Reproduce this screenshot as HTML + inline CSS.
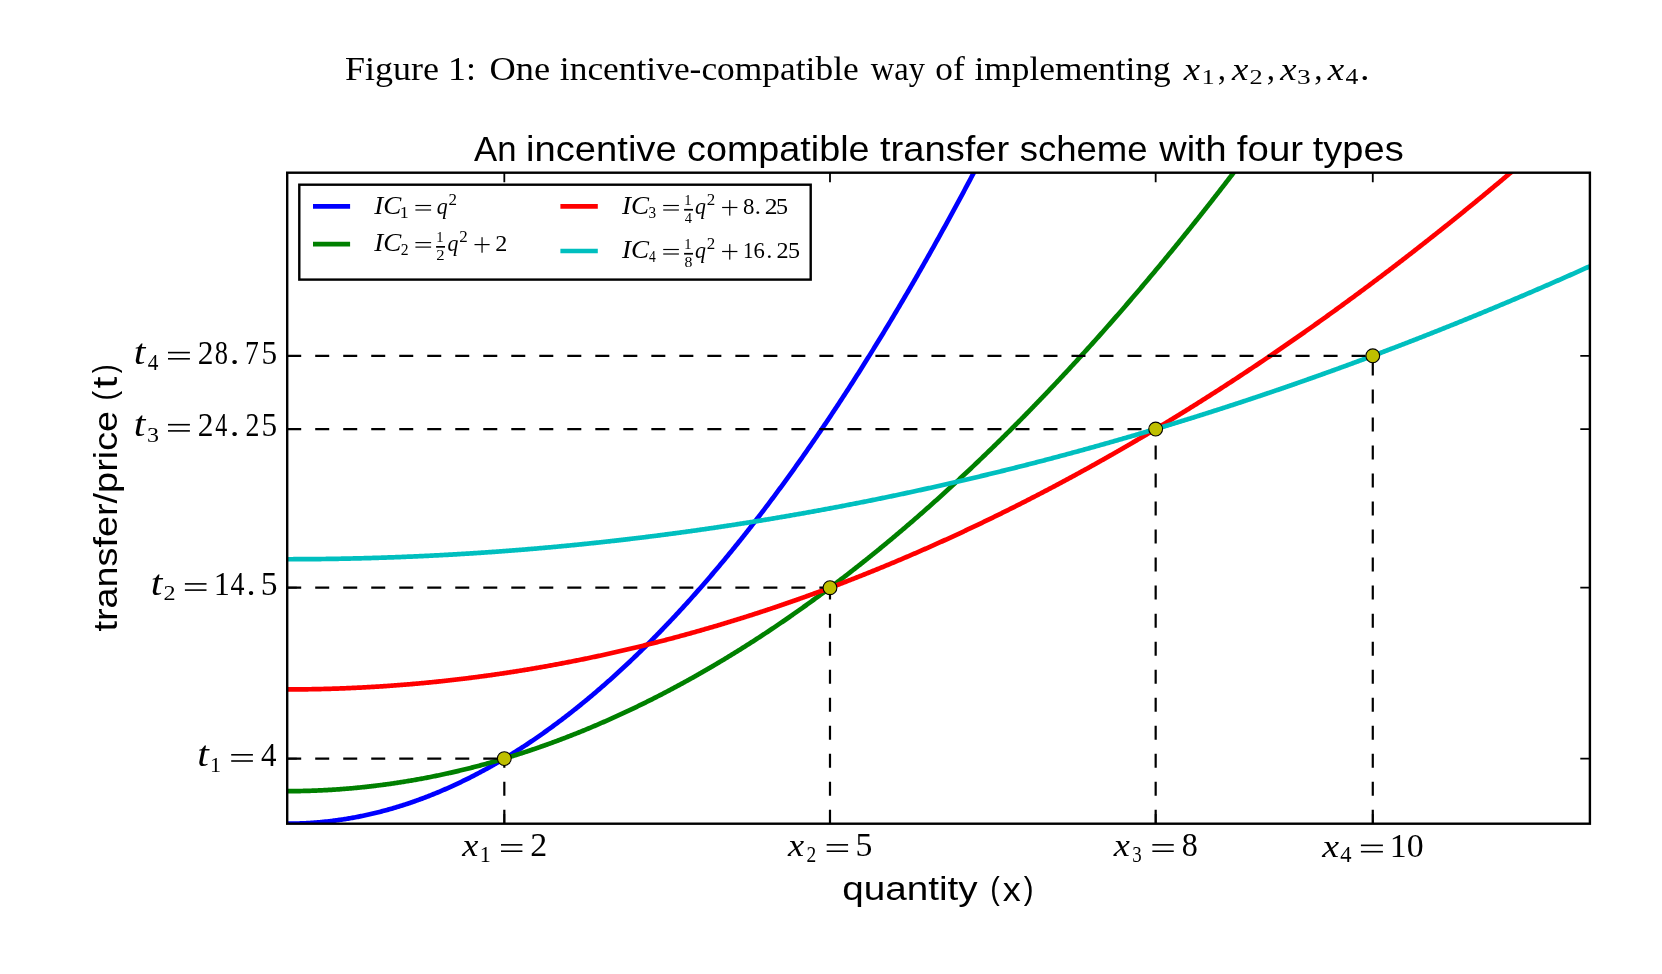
<!DOCTYPE html>
<html><head><meta charset="utf-8"><title>Figure 1</title>
<style>
html,body{margin:0;padding:0;background:#fff;width:1662px;height:974px;overflow:hidden}
svg{display:block;will-change:transform}
text{font-kerning:none}

</style></head><body>
<svg width="1662" height="974" viewBox="0 0 1662 974">
<defs><clipPath id="ax"><rect x="287.2" y="172.7" width="1302.70" height="651.00"/></clipPath></defs>
<rect width="1662" height="974" fill="#fff"/>
<g id="caption">
<text transform="matrix(1.0906,0,0,1.0000,344.96,79.50)" font-family="'Liberation Serif', serif" font-style="normal" font-size="33">Figure 1:</text>
<text transform="matrix(1.1014,0,0,1.0000,489.51,79.50)" font-family="'Liberation Serif', serif" font-style="normal" font-size="33">One</text>
<text transform="matrix(1.0730,0,0,1.0000,559.86,79.50)" font-family="'Liberation Serif', serif" font-style="normal" font-size="33">incentive-compatible</text>
<text transform="matrix(0.9851,0,0,1.0000,870.77,79.50)" font-family="'Liberation Serif', serif" font-style="normal" font-size="33">way</text>
<text transform="matrix(1.0750,0,0,1.0000,935.15,79.50)" font-family="'Liberation Serif', serif" font-style="normal" font-size="33">of</text>
<text transform="matrix(1.0710,0,0,1.0000,974.46,79.50)" font-family="'Liberation Serif', serif" font-style="normal" font-size="33">implementing</text>
<text transform="matrix(1.1143,0,0,0.9639,1183.65,79.80)" font-family="'Liberation Serif', serif" font-style="italic" font-size="33">x</text>
<text transform="matrix(1.2008,0,0,0.9984,1201.38,84.40)" font-family="'Liberation Serif', serif" font-style="normal" font-size="22">1</text>
<text transform="matrix(1.1143,0,0,0.9639,1231.95,79.80)" font-family="'Liberation Serif', serif" font-style="italic" font-size="33">x</text>
<text transform="matrix(1.2019,0,0,0.9954,1249.54,84.40)" font-family="'Liberation Serif', serif" font-style="normal" font-size="22">2</text>
<text transform="matrix(1.1143,0,0,0.9639,1280.25,79.80)" font-family="'Liberation Serif', serif" font-style="italic" font-size="33">x</text>
<text transform="matrix(1.2434,0,0,0.9954,1296.99,84.40)" font-family="'Liberation Serif', serif" font-style="normal" font-size="22">3</text>
<text transform="matrix(1.1210,0,0,0.9639,1327.85,79.80)" font-family="'Liberation Serif', serif" font-style="italic" font-size="33">x</text>
<text transform="matrix(1.1636,0,0,1.0013,1345.50,84.40)" font-family="'Liberation Serif', serif" font-style="normal" font-size="22">4</text>
<text transform="matrix(1.0000,0,0,1.0000,1217.74,79.50)" font-family="'Liberation Serif', serif" font-style="normal" font-size="33">,</text>
<text transform="matrix(1.0000,0,0,1.0000,1266.64,79.50)" font-family="'Liberation Serif', serif" font-style="normal" font-size="33">,</text>
<text transform="matrix(1.0000,0,0,1.0000,1314.24,79.50)" font-family="'Liberation Serif', serif" font-style="normal" font-size="33">,</text>
<text transform="matrix(1.1540,0,0,1.0000,1359.99,79.50)" font-family="'Liberation Serif', serif" font-style="normal" font-size="33">.</text>
<text transform="matrix(1.0052,0,0,1.0000,474.03,161.00)" font-family="'Liberation Sans', sans-serif" font-style="normal" font-size="34.5">An</text>
<text transform="matrix(1.1064,0,0,1.0000,526.05,161.00)" font-family="'Liberation Sans', sans-serif" font-style="normal" font-size="34.5">incentive</text>
<text transform="matrix(1.0950,0,0,1.0000,687.00,161.00)" font-family="'Liberation Sans', sans-serif" font-style="normal" font-size="34.5">compatible</text>
<text transform="matrix(1.1047,0,0,1.0000,880.02,161.00)" font-family="'Liberation Sans', sans-serif" font-style="normal" font-size="34.5">transfer</text>
<text transform="matrix(1.0583,0,0,1.0000,1019.78,161.00)" font-family="'Liberation Sans', sans-serif" font-style="normal" font-size="34.5">scheme</text>
<text transform="matrix(1.0987,0,0,1.0000,1159.26,161.00)" font-family="'Liberation Sans', sans-serif" font-style="normal" font-size="34.5">with</text>
<text transform="matrix(1.1133,0,0,1.0000,1236.86,161.00)" font-family="'Liberation Sans', sans-serif" font-style="normal" font-size="34.5">four</text>
<text transform="matrix(1.1030,0,0,1.0000,1312.72,161.00)" font-family="'Liberation Sans', sans-serif" font-style="normal" font-size="34.5">types</text>
<text transform="matrix(1.1540,0,0,1.0000,842.28,900.40)" font-family="'Liberation Sans', sans-serif" font-style="normal" font-size="33.5">quantity</text>
<text transform="matrix(0.8557,0,0,0.9516,990.22,899.10)" font-family="'Liberation Sans', sans-serif" font-style="normal" font-size="33.5">(</text>
<text transform="matrix(1.0741,0,0,0.9888,1002.70,900.60)" font-family="'Liberation Sans', sans-serif" font-style="normal" font-size="33.5">x</text>
<text transform="matrix(0.8782,0,0,0.9516,1023.83,899.10)" font-family="'Liberation Sans', sans-serif" font-style="normal" font-size="33.5">)</text>
</g>
<g transform="translate(117,0) rotate(-90)"><text transform="matrix(1.1287,0,0,1.0000,-631.57,0.00)" font-family="'Liberation Sans', sans-serif" font-style="normal" font-size="33.5">transfer/price</text><text transform="matrix(0.8669,0,0,0.9292,-400.40,-2.24)" font-family="'Liberation Sans', sans-serif" font-style="normal" font-size="33.5">(</text><text transform="matrix(1.2741,0,0,1.0481,-388.55,-0.30)" font-family="'Liberation Sans', sans-serif" font-style="normal" font-size="33.5">t</text><text transform="matrix(0.7881,0,0,0.9292,-373.15,-2.24)" font-family="'Liberation Sans', sans-serif" font-style="normal" font-size="33.5">)</text></g>
<g clip-path="url(#ax)">
<g fill="none" stroke-width="4.7" stroke-linejoin="round" stroke-linecap="butt">
<path d="M287.20,823.70 L288.29,823.70 L289.37,823.69 L290.46,823.69 L291.54,823.67 L292.63,823.66 L293.71,823.64 L294.80,823.62 L295.88,823.60 L296.97,823.57 L298.06,823.54 L299.14,823.50 L300.23,823.47 L301.31,823.42 L302.40,823.38 L303.48,823.33 L304.57,823.28 L305.65,823.23 L306.74,823.17 L307.83,823.11 L308.91,823.05 L310.00,822.98 L311.08,822.91 L312.17,822.84 L313.25,822.76 L314.34,822.68 L315.43,822.60 L316.51,822.51 L317.60,822.42 L318.68,822.33 L319.77,822.24 L320.85,822.14 L321.94,822.03 L323.02,821.93 L324.11,821.82 L325.20,821.71 L326.28,821.59 L327.37,821.47 L328.45,821.35 L329.54,821.22 L330.62,821.10 L331.71,820.96 L332.79,820.83 L333.88,820.69 L334.97,820.55 L336.05,820.40 L337.14,820.26 L338.22,820.10 L339.31,819.95 L340.39,819.79 L341.48,819.63 L342.56,819.47 L343.65,819.30 L344.74,819.13 L345.82,818.95 L346.91,818.78 L347.99,818.60 L349.08,818.41 L350.16,818.23 L351.25,818.03 L352.33,817.84 L353.42,817.64 L354.51,817.44 L355.59,817.24 L356.68,817.03 L357.76,816.82 L358.85,816.61 L359.93,816.39 L361.02,816.17 L362.11,815.95 L363.19,815.73 L364.28,815.50 L365.36,815.26 L366.45,815.03 L367.53,814.79 L368.62,814.55 L369.70,814.30 L370.79,814.05 L371.88,813.80 L372.96,813.54 L374.05,813.28 L375.13,813.02 L376.22,812.76 L377.30,812.49 L378.39,812.22 L379.47,811.94 L380.56,811.66 L381.65,811.38 L382.73,811.10 L383.82,810.81 L384.90,810.52 L385.99,810.22 L387.07,809.92 L388.16,809.62 L389.24,809.32 L390.33,809.01 L391.42,808.70 L392.50,808.39 L393.59,808.07 L394.67,807.75 L395.76,807.43 L396.84,807.10 L397.93,806.77 L399.02,806.43 L400.10,806.10 L401.19,805.76 L402.27,805.41 L403.36,805.07 L404.44,804.72 L405.53,804.36 L406.61,804.01 L407.70,803.65 L408.79,803.28 L409.87,802.92 L410.96,802.55 L412.04,802.18 L413.13,801.80 L414.21,801.42 L415.30,801.04 L416.38,800.65 L417.47,800.26 L418.56,799.87 L419.64,799.48 L420.73,799.08 L421.81,798.68 L422.90,798.27 L423.98,797.86 L425.07,797.45 L426.15,797.04 L427.24,796.62 L428.33,796.20 L429.41,795.77 L430.50,795.34 L431.58,794.91 L432.67,794.48 L433.75,794.04 L434.84,793.60 L435.92,793.15 L437.01,792.71 L438.10,792.26 L439.18,791.80 L440.27,791.34 L441.35,790.88 L442.44,790.42 L443.52,789.95 L444.61,789.48 L445.70,789.01 L446.78,788.53 L447.87,788.05 L448.95,787.57 L450.04,787.08 L451.12,786.59 L452.21,786.10 L453.29,785.60 L454.38,785.10 L455.47,784.60 L456.55,784.09 L457.64,783.58 L458.72,783.07 L459.81,782.56 L460.89,782.04 L461.98,781.51 L463.06,780.99 L464.15,780.46 L465.24,779.93 L466.32,779.39 L467.41,778.85 L468.49,778.31 L469.58,777.77 L470.66,777.22 L471.75,776.67 L472.83,776.11 L473.92,775.55 L475.01,774.99 L476.09,774.43 L477.18,773.86 L478.26,773.29 L479.35,772.71 L480.43,772.13 L481.52,771.55 L482.61,770.97 L483.69,770.38 L484.78,769.79 L485.86,769.20 L486.95,768.60 L488.03,768.00 L489.12,767.40 L490.20,766.79 L491.29,766.18 L492.38,765.56 L493.46,764.95 L494.55,764.33 L495.63,763.70 L496.72,763.08 L497.80,762.45 L498.89,761.81 L499.97,761.18 L501.06,760.54 L502.15,759.90 L503.23,759.25 L504.32,758.60 L505.40,757.95 L506.49,757.29 L507.57,756.63 L508.66,755.97 L509.74,755.30 L510.83,754.64 L511.92,753.96 L513.00,753.29 L514.09,752.61 L515.17,751.93 L516.26,751.24 L517.34,750.55 L518.43,749.86 L519.51,749.17 L520.60,748.47 L521.69,747.77 L522.77,747.06 L523.86,746.35 L524.94,745.64 L526.03,744.93 L527.11,744.21 L528.20,743.49 L529.29,742.77 L530.37,742.04 L531.46,741.31 L532.54,740.57 L533.63,739.84 L534.71,739.10 L535.80,738.35 L536.88,737.61 L537.97,736.85 L539.06,736.10 L540.14,735.34 L541.23,734.58 L542.31,733.82 L543.40,733.05 L544.48,732.28 L545.57,731.51 L546.65,730.74 L547.74,729.96 L548.83,729.17 L549.91,728.39 L551.00,727.60 L552.08,726.81 L553.17,726.01 L554.25,725.21 L555.34,724.41 L556.42,723.60 L557.51,722.79 L558.60,721.98 L559.68,721.17 L560.77,720.35 L561.85,719.53 L562.94,718.70 L564.02,717.87 L565.11,717.04 L566.19,716.21 L567.28,715.37 L568.37,714.53 L569.45,713.68 L570.54,712.83 L571.62,711.98 L572.71,711.13 L573.79,710.27 L574.88,709.41 L575.97,708.54 L577.05,707.68 L578.14,706.81 L579.22,705.93 L580.31,705.06 L581.39,704.17 L582.48,703.29 L583.56,702.40 L584.65,701.51 L585.74,700.62 L586.82,699.72 L587.91,698.82 L588.99,697.92 L590.08,697.01 L591.16,696.10 L592.25,695.19 L593.33,694.27 L594.42,693.36 L595.51,692.43 L596.59,691.51 L597.68,690.58 L598.76,689.64 L599.85,688.71 L600.93,687.77 L602.02,686.83 L603.10,685.88 L604.19,684.93 L605.28,683.98 L606.36,683.03 L607.45,682.07 L608.53,681.10 L609.62,680.14 L610.70,679.17 L611.79,678.20 L612.88,677.23 L613.96,676.25 L615.05,675.27 L616.13,674.28 L617.22,673.29 L618.30,672.30 L619.39,671.31 L620.47,670.31 L621.56,669.31 L622.65,668.30 L623.73,667.30 L624.82,666.29 L625.90,665.27 L626.99,664.26 L628.07,663.24 L629.16,662.21 L630.24,661.18 L631.33,660.15 L632.42,659.12 L633.50,658.08 L634.59,657.04 L635.67,656.00 L636.76,654.95 L637.84,653.90 L638.93,652.85 L640.01,651.80 L641.10,650.74 L642.19,649.67 L643.27,648.61 L644.36,647.54 L645.44,646.47 L646.53,645.39 L647.61,644.31 L648.70,643.23 L649.78,642.14 L650.87,641.05 L651.96,639.96 L653.04,638.87 L654.13,637.77 L655.21,636.67 L656.30,635.56 L657.38,634.45 L658.47,633.34 L659.56,632.23 L660.64,631.11 L661.73,629.99 L662.81,628.86 L663.90,627.73 L664.98,626.60 L666.07,625.47 L667.15,624.33 L668.24,623.19 L669.33,622.05 L670.41,620.90 L671.50,619.75 L672.58,618.59 L673.67,617.44 L674.75,616.28 L675.84,615.11 L676.92,613.95 L678.01,612.78 L679.10,611.60 L680.18,610.43 L681.27,609.25 L682.35,608.06 L683.44,606.88 L684.52,605.69 L685.61,604.49 L686.69,603.30 L687.78,602.10 L688.87,600.90 L689.95,599.69 L691.04,598.48 L692.12,597.27 L693.21,596.05 L694.29,594.83 L695.38,593.61 L696.46,592.39 L697.55,591.16 L698.64,589.92 L699.72,588.69 L700.81,587.45 L701.89,586.21 L702.98,584.96 L704.06,583.72 L705.15,582.46 L706.24,581.21 L707.32,579.95 L708.41,578.69 L709.49,577.43 L710.58,576.16 L711.66,574.89 L712.75,573.61 L713.83,572.33 L714.92,571.05 L716.01,569.77 L717.09,568.48 L718.18,567.19 L719.26,565.90 L720.35,564.60 L721.43,563.30 L722.52,562.00 L723.60,560.69 L724.69,559.38 L725.78,558.07 L726.86,556.75 L727.95,555.43 L729.03,554.11 L730.12,552.78 L731.20,551.45 L732.29,550.12 L733.37,548.78 L734.46,547.44 L735.55,546.10 L736.63,544.75 L737.72,543.40 L738.80,542.05 L739.89,540.70 L740.97,539.34 L742.06,537.97 L743.14,536.61 L744.23,535.24 L745.32,533.87 L746.40,532.49 L747.49,531.11 L748.57,529.73 L749.66,528.35 L750.74,526.96 L751.83,525.57 L752.92,524.17 L754.00,522.78 L755.09,521.37 L756.17,519.97 L757.26,518.56 L758.34,517.15 L759.43,515.74 L760.51,514.32 L761.60,512.90 L762.69,511.47 L763.77,510.05 L764.86,508.62 L765.94,507.18 L767.03,505.75 L768.11,504.30 L769.20,502.86 L770.28,501.41 L771.37,499.96 L772.46,498.51 L773.54,497.05 L774.63,495.59 L775.71,494.13 L776.80,492.66 L777.88,491.20 L778.97,489.72 L780.05,488.25 L781.14,486.77 L782.23,485.28 L783.31,483.80 L784.40,482.31 L785.48,480.82 L786.57,479.32 L787.65,477.82 L788.74,476.32 L789.83,474.81 L790.91,473.31 L792.00,471.79 L793.08,470.28 L794.17,468.76 L795.25,467.24 L796.34,465.71 L797.42,464.19 L798.51,462.65 L799.60,461.12 L800.68,459.58 L801.77,458.04 L802.85,456.50 L803.94,454.95 L805.02,453.40 L806.11,451.84 L807.19,450.28 L808.28,448.72 L809.37,447.16 L810.45,445.59 L811.54,444.02 L812.62,442.45 L813.71,440.87 L814.79,439.29 L815.88,437.71 L816.96,436.12 L818.05,434.53 L819.14,432.94 L820.22,431.34 L821.31,429.74 L822.39,428.14 L823.48,426.53 L824.56,424.92 L825.65,423.31 L826.73,421.69 L827.82,420.07 L828.91,418.45 L829.99,416.83 L831.08,415.20 L832.16,413.56 L833.25,411.93 L834.33,410.29 L835.42,408.65 L836.51,407.00 L837.59,405.35 L838.68,403.70 L839.76,402.05 L840.85,400.39 L841.93,398.73 L843.02,397.06 L844.10,395.39 L845.19,393.72 L846.28,392.05 L847.36,390.37 L848.45,388.69 L849.53,387.00 L850.62,385.31 L851.70,383.62 L852.79,381.93 L853.87,380.23 L854.96,378.53 L856.05,376.83 L857.13,375.12 L858.22,373.41 L859.30,371.70 L860.39,369.98 L861.47,368.26 L862.56,366.54 L863.64,364.81 L864.73,363.08 L865.82,361.35 L866.90,359.61 L867.99,357.87 L869.07,356.13 L870.16,354.38 L871.24,352.63 L872.33,350.88 L873.41,349.12 L874.50,347.36 L875.59,345.60 L876.67,343.83 L877.76,342.06 L878.84,340.29 L879.93,338.52 L881.01,336.74 L882.10,334.96 L883.19,333.17 L884.27,331.38 L885.36,329.59 L886.44,327.79 L887.53,326.00 L888.61,324.19 L889.70,322.39 L890.78,320.58 L891.87,318.77 L892.96,316.96 L894.04,315.14 L895.13,313.32 L896.21,311.49 L897.30,309.66 L898.38,307.83 L899.47,306.00 L900.55,304.16 L901.64,302.32 L902.73,300.48 L903.81,298.63 L904.90,296.78 L905.98,294.93 L907.07,293.07 L908.15,291.21 L909.24,289.34 L910.32,287.48 L911.41,285.61 L912.50,283.73 L913.58,281.86 L914.67,279.98 L915.75,278.10 L916.84,276.21 L917.92,274.32 L919.01,272.43 L920.10,270.53 L921.18,268.63 L922.27,266.73 L923.35,264.82 L924.44,262.91 L925.52,261.00 L926.61,259.09 L927.69,257.17 L928.78,255.25 L929.87,253.32 L930.95,251.39 L932.04,249.46 L933.12,247.52 L934.21,245.59 L935.29,243.64 L936.38,241.70 L937.46,239.75 L938.55,237.80 L939.64,235.85 L940.72,233.89 L941.81,231.93 L942.89,229.96 L943.98,227.99 L945.06,226.02 L946.15,224.05 L947.23,222.07 L948.32,220.09 L949.41,218.11 L950.49,216.12 L951.58,214.13 L952.66,212.14 L953.75,210.14 L954.83,208.14 L955.92,206.14 L957.00,204.13 L958.09,202.12 L959.18,200.11 L960.26,198.09 L961.35,196.07 L962.43,194.05 L963.52,192.02 L964.60,189.99 L965.69,187.96 L966.78,185.92 L967.86,183.88 L968.95,181.84 L970.03,179.79 L971.12,177.75 L972.20,175.69 L973.29,173.64 L974.37,171.58 L975.46,169.52 L976.55,167.45 L977.63,165.38 L978.72,163.31 L979.80,161.24 L980.89,159.16 L981.97,157.08 L983.06,154.99 L984.14,152.90 L985.23,150.81 L986.32,148.72 L987.40,146.62 L988.49,144.52 L989.57,142.41 L990.66,140.31 L991.74,138.20 L992.83,136.08 L993.91,133.96 L995.00,131.84 L996.09,129.72 L997.17,127.59 L998.26,125.46 L999.34,123.33 L1000.43,121.19 L1001.51,119.05 L1002.60,116.91 L1003.69,114.76 L1004.77,112.61 L1005.86,110.46 L1006.94,108.30" stroke="#0000ff"/>
<path d="M287.20,791.15 L288.29,791.15 L289.37,791.15 L290.46,791.14 L291.54,791.14 L292.63,791.13 L293.71,791.12 L294.80,791.11 L295.88,791.10 L296.97,791.08 L298.06,791.07 L299.14,791.05 L300.23,791.03 L301.31,791.01 L302.40,790.99 L303.48,790.97 L304.57,790.94 L305.65,790.91 L306.74,790.89 L307.83,790.86 L308.91,790.82 L310.00,790.79 L311.08,790.76 L312.17,790.72 L313.25,790.68 L314.34,790.64 L315.43,790.60 L316.51,790.56 L317.60,790.51 L318.68,790.47 L319.77,790.42 L320.85,790.37 L321.94,790.32 L323.02,790.26 L324.11,790.21 L325.20,790.15 L326.28,790.10 L327.37,790.04 L328.45,789.97 L329.54,789.91 L330.62,789.85 L331.71,789.78 L332.79,789.71 L333.88,789.65 L334.97,789.57 L336.05,789.50 L337.14,789.43 L338.22,789.35 L339.31,789.28 L340.39,789.20 L341.48,789.12 L342.56,789.03 L343.65,788.95 L344.74,788.86 L345.82,788.78 L346.91,788.69 L347.99,788.60 L349.08,788.51 L350.16,788.41 L351.25,788.32 L352.33,788.22 L353.42,788.12 L354.51,788.02 L355.59,787.92 L356.68,787.82 L357.76,787.71 L358.85,787.61 L359.93,787.50 L361.02,787.39 L362.11,787.28 L363.19,787.16 L364.28,787.05 L365.36,786.93 L366.45,786.81 L367.53,786.69 L368.62,786.57 L369.70,786.45 L370.79,786.33 L371.88,786.20 L372.96,786.07 L374.05,785.94 L375.13,785.81 L376.22,785.68 L377.30,785.54 L378.39,785.41 L379.47,785.27 L380.56,785.13 L381.65,784.99 L382.73,784.85 L383.82,784.70 L384.90,784.56 L385.99,784.41 L387.07,784.26 L388.16,784.11 L389.24,783.96 L390.33,783.81 L391.42,783.65 L392.50,783.49 L393.59,783.33 L394.67,783.17 L395.76,783.01 L396.84,782.85 L397.93,782.68 L399.02,782.52 L400.10,782.35 L401.19,782.18 L402.27,782.01 L403.36,781.83 L404.44,781.66 L405.53,781.48 L406.61,781.30 L407.70,781.12 L408.79,780.94 L409.87,780.76 L410.96,780.57 L412.04,780.39 L413.13,780.20 L414.21,780.01 L415.30,779.82 L416.38,779.63 L417.47,779.43 L418.56,779.24 L419.64,779.04 L420.73,778.84 L421.81,778.64 L422.90,778.44 L423.98,778.23 L425.07,778.03 L426.15,777.82 L427.24,777.61 L428.33,777.40 L429.41,777.19 L430.50,776.97 L431.58,776.76 L432.67,776.54 L433.75,776.32 L434.84,776.10 L435.92,775.88 L437.01,775.65 L438.10,775.43 L439.18,775.20 L440.27,774.97 L441.35,774.74 L442.44,774.51 L443.52,774.28 L444.61,774.04 L445.70,773.80 L446.78,773.57 L447.87,773.33 L448.95,773.08 L450.04,772.84 L451.12,772.60 L452.21,772.35 L453.29,772.10 L454.38,771.85 L455.47,771.60 L456.55,771.35 L457.64,771.09 L458.72,770.84 L459.81,770.58 L460.89,770.32 L461.98,770.06 L463.06,769.79 L464.15,769.53 L465.24,769.26 L466.32,769.00 L467.41,768.73 L468.49,768.46 L469.58,768.18 L470.66,767.91 L471.75,767.63 L472.83,767.36 L473.92,767.08 L475.01,766.80 L476.09,766.51 L477.18,766.23 L478.26,765.94 L479.35,765.66 L480.43,765.37 L481.52,765.08 L482.61,764.78 L483.69,764.49 L484.78,764.20 L485.86,763.90 L486.95,763.60 L488.03,763.30 L489.12,763.00 L490.20,762.69 L491.29,762.39 L492.38,762.08 L493.46,761.77 L494.55,761.46 L495.63,761.15 L496.72,760.84 L497.80,760.52 L498.89,760.21 L499.97,759.89 L501.06,759.57 L502.15,759.25 L503.23,758.92 L504.32,758.60 L505.40,758.27 L506.49,757.95 L507.57,757.62 L508.66,757.28 L509.74,756.95 L510.83,756.62 L511.92,756.28 L513.00,755.94 L514.09,755.60 L515.17,755.26 L516.26,754.92 L517.34,754.58 L518.43,754.23 L519.51,753.88 L520.60,753.53 L521.69,753.18 L522.77,752.83 L523.86,752.48 L524.94,752.12 L526.03,751.76 L527.11,751.41 L528.20,751.05 L529.29,750.68 L530.37,750.32 L531.46,749.95 L532.54,749.59 L533.63,749.22 L534.71,748.85 L535.80,748.48 L536.88,748.10 L537.97,747.73 L539.06,747.35 L540.14,746.97 L541.23,746.59 L542.31,746.21 L543.40,745.83 L544.48,745.44 L545.57,745.06 L546.65,744.67 L547.74,744.28 L548.83,743.89 L549.91,743.49 L551.00,743.10 L552.08,742.70 L553.17,742.30 L554.25,741.91 L555.34,741.50 L556.42,741.10 L557.51,740.70 L558.60,740.29 L559.68,739.88 L560.77,739.47 L561.85,739.06 L562.94,738.65 L564.02,738.24 L565.11,737.82 L566.19,737.40 L567.28,736.98 L568.37,736.56 L569.45,736.14 L570.54,735.72 L571.62,735.29 L572.71,734.86 L573.79,734.43 L574.88,734.00 L575.97,733.57 L577.05,733.14 L578.14,732.70 L579.22,732.27 L580.31,731.83 L581.39,731.39 L582.48,730.95 L583.56,730.50 L584.65,730.06 L585.74,729.61 L586.82,729.16 L587.91,728.71 L588.99,728.26 L590.08,727.81 L591.16,727.35 L592.25,726.90 L593.33,726.44 L594.42,725.98 L595.51,725.52 L596.59,725.05 L597.68,724.59 L598.76,724.12 L599.85,723.65 L600.93,723.18 L602.02,722.71 L603.10,722.24 L604.19,721.77 L605.28,721.29 L606.36,720.81 L607.45,720.33 L608.53,719.85 L609.62,719.37 L610.70,718.89 L611.79,718.40 L612.88,717.91 L613.96,717.42 L615.05,716.93 L616.13,716.44 L617.22,715.95 L618.30,715.45 L619.39,714.95 L620.47,714.45 L621.56,713.95 L622.65,713.45 L623.73,712.95 L624.82,712.44 L625.90,711.94 L626.99,711.43 L628.07,710.92 L629.16,710.41 L630.24,709.89 L631.33,709.38 L632.42,708.86 L633.50,708.34 L634.59,707.82 L635.67,707.30 L636.76,706.78 L637.84,706.25 L638.93,705.73 L640.01,705.20 L641.10,704.67 L642.19,704.14 L643.27,703.60 L644.36,703.07 L645.44,702.53 L646.53,701.99 L647.61,701.46 L648.70,700.91 L649.78,700.37 L650.87,699.83 L651.96,699.28 L653.04,698.73 L654.13,698.18 L655.21,697.63 L656.30,697.08 L657.38,696.53 L658.47,695.97 L659.56,695.41 L660.64,694.85 L661.73,694.29 L662.81,693.73 L663.90,693.17 L664.98,692.60 L666.07,692.03 L667.15,691.47 L668.24,690.90 L669.33,690.32 L670.41,689.75 L671.50,689.17 L672.58,688.60 L673.67,688.02 L674.75,687.44 L675.84,686.86 L676.92,686.27 L678.01,685.69 L679.10,685.10 L680.18,684.51 L681.27,683.92 L682.35,683.33 L683.44,682.74 L684.52,682.14 L685.61,681.55 L686.69,680.95 L687.78,680.35 L688.87,679.75 L689.95,679.14 L691.04,678.54 L692.12,677.93 L693.21,677.33 L694.29,676.72 L695.38,676.11 L696.46,675.49 L697.55,674.88 L698.64,674.26 L699.72,673.64 L700.81,673.03 L701.89,672.40 L702.98,671.78 L704.06,671.16 L705.15,670.53 L706.24,669.90 L707.32,669.28 L708.41,668.64 L709.49,668.01 L710.58,667.38 L711.66,666.74 L712.75,666.11 L713.83,665.47 L714.92,664.83 L716.01,664.18 L717.09,663.54 L718.18,662.90 L719.26,662.25 L720.35,661.60 L721.43,660.95 L722.52,660.30 L723.60,659.64 L724.69,658.99 L725.78,658.33 L726.86,657.67 L727.95,657.01 L729.03,656.35 L730.12,655.69 L731.20,655.03 L732.29,654.36 L733.37,653.69 L734.46,653.02 L735.55,652.35 L736.63,651.68 L737.72,651.00 L738.80,650.33 L739.89,649.65 L740.97,648.97 L742.06,648.29 L743.14,647.60 L744.23,646.92 L745.32,646.23 L746.40,645.55 L747.49,644.86 L748.57,644.17 L749.66,643.47 L750.74,642.78 L751.83,642.08 L752.92,641.39 L754.00,640.69 L755.09,639.99 L756.17,639.28 L757.26,638.58 L758.34,637.88 L759.43,637.17 L760.51,636.46 L761.60,635.75 L762.69,635.04 L763.77,634.32 L764.86,633.61 L765.94,632.89 L767.03,632.17 L768.11,631.45 L769.20,630.73 L770.28,630.01 L771.37,629.28 L772.46,628.56 L773.54,627.83 L774.63,627.10 L775.71,626.37 L776.80,625.63 L777.88,624.90 L778.97,624.16 L780.05,623.42 L781.14,622.68 L782.23,621.94 L783.31,621.20 L784.40,620.45 L785.48,619.71 L786.57,618.96 L787.65,618.21 L788.74,617.46 L789.83,616.71 L790.91,615.95 L792.00,615.20 L793.08,614.44 L794.17,613.68 L795.25,612.92 L796.34,612.16 L797.42,611.39 L798.51,610.63 L799.60,609.86 L800.68,609.09 L801.77,608.32 L802.85,607.55 L803.94,606.77 L805.02,606.00 L806.11,605.22 L807.19,604.44 L808.28,603.66 L809.37,602.88 L810.45,602.10 L811.54,601.31 L812.62,600.52 L813.71,599.74 L814.79,598.95 L815.88,598.15 L816.96,597.36 L818.05,596.57 L819.14,595.77 L820.22,594.97 L821.31,594.17 L822.39,593.37 L823.48,592.57 L824.56,591.76 L825.65,590.95 L826.73,590.15 L827.82,589.34 L828.91,588.53 L829.99,587.71 L831.08,586.90 L832.16,586.08 L833.25,585.26 L834.33,584.44 L835.42,583.62 L836.51,582.80 L837.59,581.98 L838.68,581.15 L839.76,580.32 L840.85,579.49 L841.93,578.66 L843.02,577.83 L844.10,577.00 L845.19,576.16 L846.28,575.32 L847.36,574.48 L848.45,573.64 L849.53,572.80 L850.62,571.96 L851.70,571.11 L852.79,570.26 L853.87,569.42 L854.96,568.57 L856.05,567.71 L857.13,566.86 L858.22,566.00 L859.30,565.15 L860.39,564.29 L861.47,563.43 L862.56,562.57 L863.64,561.70 L864.73,560.84 L865.82,559.97 L866.90,559.10 L867.99,558.23 L869.07,557.36 L870.16,556.49 L871.24,555.61 L872.33,554.74 L873.41,553.86 L874.50,552.98 L875.59,552.10 L876.67,551.22 L877.76,550.33 L878.84,549.45 L879.93,548.56 L881.01,547.67 L882.10,546.78 L883.19,545.88 L884.27,544.99 L885.36,544.09 L886.44,543.20 L887.53,542.30 L888.61,541.40 L889.70,540.49 L890.78,539.59 L891.87,538.68 L892.96,537.78 L894.04,536.87 L895.13,535.96 L896.21,535.05 L897.30,534.13 L898.38,533.22 L899.47,532.30 L900.55,531.38 L901.64,530.46 L902.73,529.54 L903.81,528.61 L904.90,527.69 L905.98,526.76 L907.07,525.83 L908.15,524.90 L909.24,523.97 L910.32,523.04 L911.41,522.10 L912.50,521.17 L913.58,520.23 L914.67,519.29 L915.75,518.35 L916.84,517.40 L917.92,516.46 L919.01,515.51 L920.10,514.57 L921.18,513.62 L922.27,512.66 L923.35,511.71 L924.44,510.76 L925.52,509.80 L926.61,508.84 L927.69,507.88 L928.78,506.92 L929.87,505.96 L930.95,505.00 L932.04,504.03 L933.12,503.06 L934.21,502.09 L935.29,501.12 L936.38,500.15 L937.46,499.18 L938.55,498.20 L939.64,497.22 L940.72,496.24 L941.81,495.26 L942.89,494.28 L943.98,493.30 L945.06,492.31 L946.15,491.32 L947.23,490.34 L948.32,489.35 L949.41,488.35 L950.49,487.36 L951.58,486.36 L952.66,485.37 L953.75,484.37 L954.83,483.37 L955.92,482.37 L957.00,481.36 L958.09,480.36 L959.18,479.35 L960.26,478.34 L961.35,477.33 L962.43,476.32 L963.52,475.31 L964.60,474.30 L965.69,473.28 L966.78,472.26 L967.86,471.24 L968.95,470.22 L970.03,469.20 L971.12,468.17 L972.20,467.15 L973.29,466.12 L974.37,465.09 L975.46,464.06 L976.55,463.03 L977.63,461.99 L978.72,460.96 L979.80,459.92 L980.89,458.88 L981.97,457.84 L983.06,456.80 L984.14,455.75 L985.23,454.71 L986.32,453.66 L987.40,452.61 L988.49,451.56 L989.57,450.51 L990.66,449.45 L991.74,448.40 L992.83,447.34 L993.91,446.28 L995.00,445.22 L996.09,444.16 L997.17,443.10 L998.26,442.03 L999.34,440.96 L1000.43,439.90 L1001.51,438.83 L1002.60,437.75 L1003.69,436.68 L1004.77,435.61 L1005.86,434.53 L1006.94,433.45 L1008.03,432.37 L1009.11,431.29 L1010.20,430.21 L1011.28,429.12 L1012.37,428.04 L1013.46,426.95 L1014.54,425.86 L1015.63,424.77 L1016.71,423.67 L1017.80,422.58 L1018.88,421.48 L1019.97,420.39 L1021.05,419.29 L1022.14,418.18 L1023.23,417.08 L1024.31,415.98 L1025.40,414.87 L1026.48,413.76 L1027.57,412.66 L1028.65,411.54 L1029.74,410.43 L1030.82,409.32 L1031.91,408.20 L1033.00,407.09 L1034.08,405.97 L1035.17,404.85 L1036.25,403.72 L1037.34,402.60 L1038.42,401.47 L1039.51,400.35 L1040.59,399.22 L1041.68,398.09 L1042.77,396.96 L1043.85,395.82 L1044.94,394.69 L1046.02,393.55 L1047.11,392.41 L1048.19,391.27 L1049.28,390.13 L1050.37,388.99 L1051.45,387.84 L1052.54,386.70 L1053.62,385.55 L1054.71,384.40 L1055.79,383.25 L1056.88,382.09 L1057.96,380.94 L1059.05,379.78 L1060.14,378.62 L1061.22,377.46 L1062.31,376.30 L1063.39,375.14 L1064.48,373.98 L1065.56,372.81 L1066.65,371.64 L1067.73,370.47 L1068.82,369.30 L1069.91,368.13 L1070.99,366.96 L1072.08,365.78 L1073.16,364.60 L1074.25,363.42 L1075.33,362.24 L1076.42,361.06 L1077.50,359.88 L1078.59,358.69 L1079.68,357.50 L1080.76,356.31 L1081.85,355.12 L1082.93,353.93 L1084.02,352.74 L1085.10,351.54 L1086.19,350.34 L1087.27,349.15 L1088.36,347.95 L1089.45,346.74 L1090.53,345.54 L1091.62,344.34 L1092.70,343.13 L1093.79,341.92 L1094.87,340.71 L1095.96,339.50 L1097.05,338.29 L1098.13,337.07 L1099.22,335.85 L1100.30,334.64 L1101.39,333.42 L1102.47,332.19 L1103.56,330.97 L1104.64,329.75 L1105.73,328.52 L1106.82,327.29 L1107.90,326.06 L1108.99,324.83 L1110.07,323.60 L1111.16,322.36 L1112.24,321.13 L1113.33,319.89 L1114.41,318.65 L1115.50,317.41 L1116.59,316.17 L1117.67,314.92 L1118.76,313.68 L1119.84,312.43 L1120.93,311.18 L1122.01,309.93 L1123.10,308.68 L1124.18,307.42 L1125.27,306.17 L1126.36,304.91 L1127.44,303.65 L1128.53,302.39 L1129.61,301.13 L1130.70,299.87 L1131.78,298.60 L1132.87,297.33 L1133.95,296.06 L1135.04,294.79 L1136.13,293.52 L1137.21,292.25 L1138.30,290.97 L1139.38,289.70 L1140.47,288.42 L1141.55,287.14 L1142.64,285.86 L1143.73,284.57 L1144.81,283.29 L1145.90,282.00 L1146.98,280.71 L1148.07,279.42 L1149.15,278.13 L1150.24,276.84 L1151.32,275.54 L1152.41,274.25 L1153.50,272.95 L1154.58,271.65 L1155.67,270.35 L1156.75,269.05 L1157.84,267.74 L1158.92,266.44 L1160.01,265.13 L1161.09,263.82 L1162.18,262.51 L1163.27,261.20 L1164.35,259.88 L1165.44,258.57 L1166.52,257.25 L1167.61,255.93 L1168.69,254.61 L1169.78,253.29 L1170.86,251.96 L1171.95,250.64 L1173.04,249.31 L1174.12,247.98 L1175.21,246.65 L1176.29,245.32 L1177.38,243.98 L1178.46,242.65 L1179.55,241.31 L1180.64,239.97 L1181.72,238.63 L1182.81,237.29 L1183.89,235.95 L1184.98,234.60 L1186.06,233.26 L1187.15,231.91 L1188.23,230.56 L1189.32,229.21 L1190.41,227.85 L1191.49,226.50 L1192.58,225.14 L1193.66,223.78 L1194.75,222.42 L1195.83,221.06 L1196.92,219.70 L1198.00,218.33 L1199.09,216.97 L1200.18,215.60 L1201.26,214.23 L1202.35,212.86 L1203.43,211.49 L1204.52,210.11 L1205.60,208.74 L1206.69,207.36 L1207.77,205.98 L1208.86,204.60 L1209.95,203.22 L1211.03,201.83 L1212.12,200.45 L1213.20,199.06 L1214.29,197.67 L1215.37,196.28 L1216.46,194.89 L1217.54,193.49 L1218.63,192.10 L1219.72,190.70 L1220.80,189.30 L1221.89,187.90 L1222.97,186.50 L1224.06,185.09 L1225.14,183.69 L1226.23,182.28 L1227.32,180.87 L1228.40,179.46 L1229.49,178.05 L1230.57,176.64 L1231.66,175.22 L1232.74,173.81 L1233.83,172.39 L1234.91,170.97 L1236.00,169.55 L1237.09,168.12 L1238.17,166.70 L1239.26,165.27 L1240.34,163.84 L1241.43,162.41 L1242.51,160.98 L1243.60,159.55 L1244.68,158.11 L1245.77,156.68 L1246.86,155.24 L1247.94,153.80 L1249.03,152.36 L1250.11,150.92 L1251.20,149.47 L1252.28,148.03 L1253.37,146.58 L1254.45,145.13 L1255.54,143.68 L1256.63,142.23 L1257.71,140.77 L1258.80,139.32 L1259.88,137.86 L1260.97,136.40 L1262.05,134.94 L1263.14,133.48 L1264.23,132.01 L1265.31,130.55 L1266.40,129.08 L1267.48,127.61 L1268.57,126.14 L1269.65,124.67 L1270.74,123.19 L1271.82,121.72 L1272.91,120.24 L1274.00,118.76 L1275.08,117.28 L1276.17,115.80 L1277.25,114.32 L1278.34,112.83 L1279.42,111.35 L1280.51,109.86 L1281.59,108.37" stroke="#008000"/>
<path d="M287.20,689.43 L288.29,689.43 L289.37,689.43 L290.46,689.43 L291.54,689.42 L292.63,689.42 L293.71,689.42 L294.80,689.41 L295.88,689.41 L296.97,689.40 L298.06,689.39 L299.14,689.38 L300.23,689.37 L301.31,689.36 L302.40,689.35 L303.48,689.34 L304.57,689.33 L305.65,689.31 L306.74,689.30 L307.83,689.28 L308.91,689.27 L310.00,689.25 L311.08,689.23 L312.17,689.22 L313.25,689.20 L314.34,689.18 L315.43,689.16 L316.51,689.13 L317.60,689.11 L318.68,689.09 L319.77,689.07 L320.85,689.04 L321.94,689.01 L323.02,688.99 L324.11,688.96 L325.20,688.93 L326.28,688.90 L327.37,688.87 L328.45,688.84 L329.54,688.81 L330.62,688.78 L331.71,688.75 L332.79,688.71 L333.88,688.68 L334.97,688.64 L336.05,688.61 L337.14,688.57 L338.22,688.53 L339.31,688.49 L340.39,688.45 L341.48,688.41 L342.56,688.37 L343.65,688.33 L344.74,688.29 L345.82,688.24 L346.91,688.20 L347.99,688.16 L349.08,688.11 L350.16,688.06 L351.25,688.01 L352.33,687.97 L353.42,687.92 L354.51,687.87 L355.59,687.82 L356.68,687.76 L357.76,687.71 L358.85,687.66 L359.93,687.60 L361.02,687.55 L362.11,687.49 L363.19,687.44 L364.28,687.38 L365.36,687.32 L366.45,687.26 L367.53,687.20 L368.62,687.14 L369.70,687.08 L370.79,687.02 L371.88,686.96 L372.96,686.89 L374.05,686.83 L375.13,686.76 L376.22,686.70 L377.30,686.63 L378.39,686.56 L379.47,686.49 L380.56,686.42 L381.65,686.35 L382.73,686.28 L383.82,686.21 L384.90,686.14 L385.99,686.06 L387.07,685.99 L388.16,685.91 L389.24,685.84 L390.33,685.76 L391.42,685.68 L392.50,685.60 L393.59,685.52 L394.67,685.44 L395.76,685.36 L396.84,685.28 L397.93,685.20 L399.02,685.11 L400.10,685.03 L401.19,684.95 L402.27,684.86 L403.36,684.77 L404.44,684.69 L405.53,684.60 L406.61,684.51 L407.70,684.42 L408.79,684.33 L409.87,684.24 L410.96,684.14 L412.04,684.05 L413.13,683.96 L414.21,683.86 L415.30,683.77 L416.38,683.67 L417.47,683.57 L418.56,683.47 L419.64,683.38 L420.73,683.28 L421.81,683.18 L422.90,683.07 L423.98,682.97 L425.07,682.87 L426.15,682.77 L427.24,682.66 L428.33,682.56 L429.41,682.45 L430.50,682.34 L431.58,682.23 L432.67,682.13 L433.75,682.02 L434.84,681.91 L435.92,681.79 L437.01,681.68 L438.10,681.57 L439.18,681.46 L440.27,681.34 L441.35,681.23 L442.44,681.11 L443.52,680.99 L444.61,680.88 L445.70,680.76 L446.78,680.64 L447.87,680.52 L448.95,680.40 L450.04,680.28 L451.12,680.15 L452.21,680.03 L453.29,679.91 L454.38,679.78 L455.47,679.66 L456.55,679.53 L457.64,679.40 L458.72,679.27 L459.81,679.15 L460.89,679.02 L461.98,678.88 L463.06,678.75 L464.15,678.62 L465.24,678.49 L466.32,678.35 L467.41,678.22 L468.49,678.08 L469.58,677.95 L470.66,677.81 L471.75,677.67 L472.83,677.53 L473.92,677.39 L475.01,677.25 L476.09,677.11 L477.18,676.97 L478.26,676.83 L479.35,676.68 L480.43,676.54 L481.52,676.39 L482.61,676.25 L483.69,676.10 L484.78,675.95 L485.86,675.81 L486.95,675.66 L488.03,675.51 L489.12,675.36 L490.20,675.20 L491.29,675.05 L492.38,674.90 L493.46,674.74 L494.55,674.59 L495.63,674.43 L496.72,674.28 L497.80,674.12 L498.89,673.96 L499.97,673.80 L501.06,673.64 L502.15,673.48 L503.23,673.32 L504.32,673.16 L505.40,672.99 L506.49,672.83 L507.57,672.66 L508.66,672.50 L509.74,672.33 L510.83,672.17 L511.92,672.00 L513.00,671.83 L514.09,671.66 L515.17,671.49 L516.26,671.32 L517.34,671.14 L518.43,670.97 L519.51,670.80 L520.60,670.62 L521.69,670.45 L522.77,670.27 L523.86,670.09 L524.94,669.92 L526.03,669.74 L527.11,669.56 L528.20,669.38 L529.29,669.20 L530.37,669.02 L531.46,668.83 L532.54,668.65 L533.63,668.47 L534.71,668.28 L535.80,668.09 L536.88,667.91 L537.97,667.72 L539.06,667.53 L540.14,667.34 L541.23,667.15 L542.31,666.96 L543.40,666.77 L544.48,666.58 L545.57,666.38 L546.65,666.19 L547.74,666.00 L548.83,665.80 L549.91,665.60 L551.00,665.41 L552.08,665.21 L553.17,665.01 L554.25,664.81 L555.34,664.61 L556.42,664.41 L557.51,664.20 L558.60,664.00 L559.68,663.80 L560.77,663.59 L561.85,663.39 L562.94,663.18 L564.02,662.97 L565.11,662.77 L566.19,662.56 L567.28,662.35 L568.37,662.14 L569.45,661.93 L570.54,661.71 L571.62,661.50 L572.71,661.29 L573.79,661.07 L574.88,660.86 L575.97,660.64 L577.05,660.43 L578.14,660.21 L579.22,659.99 L580.31,659.77 L581.39,659.55 L582.48,659.33 L583.56,659.11 L584.65,658.88 L585.74,658.66 L586.82,658.44 L587.91,658.21 L588.99,657.99 L590.08,657.76 L591.16,657.53 L592.25,657.30 L593.33,657.07 L594.42,656.85 L595.51,656.61 L596.59,656.38 L597.68,656.15 L598.76,655.92 L599.85,655.68 L600.93,655.45 L602.02,655.21 L603.10,654.98 L604.19,654.74 L605.28,654.50 L606.36,654.26 L607.45,654.02 L608.53,653.78 L609.62,653.54 L610.70,653.30 L611.79,653.06 L612.88,652.81 L613.96,652.57 L615.05,652.32 L616.13,652.08 L617.22,651.83 L618.30,651.58 L619.39,651.33 L620.47,651.08 L621.56,650.83 L622.65,650.58 L623.73,650.33 L624.82,650.08 L625.90,649.82 L626.99,649.57 L628.07,649.32 L629.16,649.06 L630.24,648.80 L631.33,648.54 L632.42,648.29 L633.50,648.03 L634.59,647.77 L635.67,647.51 L636.76,647.24 L637.84,646.98 L638.93,646.72 L640.01,646.46 L641.10,646.19 L642.19,645.92 L643.27,645.66 L644.36,645.39 L645.44,645.12 L646.53,644.85 L647.61,644.58 L648.70,644.31 L649.78,644.04 L650.87,643.77 L651.96,643.50 L653.04,643.22 L654.13,642.95 L655.21,642.67 L656.30,642.40 L657.38,642.12 L658.47,641.84 L659.56,641.56 L660.64,641.28 L661.73,641.00 L662.81,640.72 L663.90,640.44 L664.98,640.16 L666.07,639.87 L667.15,639.59 L668.24,639.30 L669.33,639.02 L670.41,638.73 L671.50,638.44 L672.58,638.15 L673.67,637.87 L674.75,637.58 L675.84,637.28 L676.92,636.99 L678.01,636.70 L679.10,636.41 L680.18,636.11 L681.27,635.82 L682.35,635.52 L683.44,635.23 L684.52,634.93 L685.61,634.63 L686.69,634.33 L687.78,634.03 L688.87,633.73 L689.95,633.43 L691.04,633.13 L692.12,632.82 L693.21,632.52 L694.29,632.21 L695.38,631.91 L696.46,631.60 L697.55,631.30 L698.64,630.99 L699.72,630.68 L700.81,630.37 L701.89,630.06 L702.98,629.75 L704.06,629.44 L705.15,629.12 L706.24,628.81 L707.32,628.49 L708.41,628.18 L709.49,627.86 L710.58,627.55 L711.66,627.23 L712.75,626.91 L713.83,626.59 L714.92,626.27 L716.01,625.95 L717.09,625.63 L718.18,625.30 L719.26,624.98 L720.35,624.66 L721.43,624.33 L722.52,624.01 L723.60,623.68 L724.69,623.35 L725.78,623.02 L726.86,622.69 L727.95,622.36 L729.03,622.03 L730.12,621.70 L731.20,621.37 L732.29,621.04 L733.37,620.70 L734.46,620.37 L735.55,620.03 L736.63,619.69 L737.72,619.36 L738.80,619.02 L739.89,618.68 L740.97,618.34 L742.06,618.00 L743.14,617.66 L744.23,617.32 L745.32,616.97 L746.40,616.63 L747.49,616.28 L748.57,615.94 L749.66,615.59 L750.74,615.25 L751.83,614.90 L752.92,614.55 L754.00,614.20 L755.09,613.85 L756.17,613.50 L757.26,613.15 L758.34,612.79 L759.43,612.44 L760.51,612.09 L761.60,611.73 L762.69,611.37 L763.77,611.02 L764.86,610.66 L765.94,610.30 L767.03,609.94 L768.11,609.58 L769.20,609.22 L770.28,608.86 L771.37,608.50 L772.46,608.13 L773.54,607.77 L774.63,607.40 L775.71,607.04 L776.80,606.67 L777.88,606.31 L778.97,605.94 L780.05,605.57 L781.14,605.20 L782.23,604.83 L783.31,604.46 L784.40,604.08 L785.48,603.71 L786.57,603.34 L787.65,602.96 L788.74,602.59 L789.83,602.21 L790.91,601.83 L792.00,601.45 L793.08,601.08 L794.17,600.70 L795.25,600.32 L796.34,599.93 L797.42,599.55 L798.51,599.17 L799.60,598.79 L800.68,598.40 L801.77,598.02 L802.85,597.63 L803.94,597.24 L805.02,596.86 L806.11,596.47 L807.19,596.08 L808.28,595.69 L809.37,595.30 L810.45,594.90 L811.54,594.51 L812.62,594.12 L813.71,593.72 L814.79,593.33 L815.88,592.93 L816.96,592.54 L818.05,592.14 L819.14,591.74 L820.22,591.34 L821.31,590.94 L822.39,590.54 L823.48,590.14 L824.56,589.74 L825.65,589.33 L826.73,588.93 L827.82,588.52 L828.91,588.12 L829.99,587.71 L831.08,587.31 L832.16,586.90 L833.25,586.49 L834.33,586.08 L835.42,585.67 L836.51,585.26 L837.59,584.84 L838.68,584.43 L839.76,584.02 L840.85,583.60 L841.93,583.19 L843.02,582.77 L844.10,582.35 L845.19,581.94 L846.28,581.52 L847.36,581.10 L848.45,580.68 L849.53,580.26 L850.62,579.83 L851.70,579.41 L852.79,578.99 L853.87,578.56 L854.96,578.14 L856.05,577.71 L857.13,577.29 L858.22,576.86 L859.30,576.43 L860.39,576.00 L861.47,575.57 L862.56,575.14 L863.64,574.71 L864.73,574.28 L865.82,573.84 L866.90,573.41 L867.99,572.97 L869.07,572.54 L870.16,572.10 L871.24,571.66 L872.33,571.23 L873.41,570.79 L874.50,570.35 L875.59,569.91 L876.67,569.46 L877.76,569.02 L878.84,568.58 L879.93,568.14 L881.01,567.69 L882.10,567.25 L883.19,566.80 L884.27,566.35 L885.36,565.90 L886.44,565.45 L887.53,565.01 L888.61,564.55 L889.70,564.10 L890.78,563.65 L891.87,563.20 L892.96,562.75 L894.04,562.29 L895.13,561.84 L896.21,561.38 L897.30,560.92 L898.38,560.46 L899.47,560.01 L900.55,559.55 L901.64,559.09 L902.73,558.63 L903.81,558.16 L904.90,557.70 L905.98,557.24 L907.07,556.77 L908.15,556.31 L909.24,555.84 L910.32,555.38 L911.41,554.91 L912.50,554.44 L913.58,553.97 L914.67,553.50 L915.75,553.03 L916.84,552.56 L917.92,552.09 L919.01,551.61 L920.10,551.14 L921.18,550.66 L922.27,550.19 L923.35,549.71 L924.44,549.23 L925.52,548.76 L926.61,548.28 L927.69,547.80 L928.78,547.32 L929.87,546.84 L930.95,546.35 L932.04,545.87 L933.12,545.39 L934.21,544.90 L935.29,544.42 L936.38,543.93 L937.46,543.44 L938.55,542.96 L939.64,542.47 L940.72,541.98 L941.81,541.49 L942.89,541.00 L943.98,540.50 L945.06,540.01 L946.15,539.52 L947.23,539.02 L948.32,538.53 L949.41,538.03 L950.49,537.54 L951.58,537.04 L952.66,536.54 L953.75,536.04 L954.83,535.54 L955.92,535.04 L957.00,534.54 L958.09,534.04 L959.18,533.53 L960.26,533.03 L961.35,532.52 L962.43,532.02 L963.52,531.51 L964.60,531.00 L965.69,530.50 L966.78,529.99 L967.86,529.48 L968.95,528.97 L970.03,528.45 L971.12,527.94 L972.20,527.43 L973.29,526.92 L974.37,526.40 L975.46,525.89 L976.55,525.37 L977.63,524.85 L978.72,524.33 L979.80,523.82 L980.89,523.30 L981.97,522.78 L983.06,522.25 L984.14,521.73 L985.23,521.21 L986.32,520.69 L987.40,520.16 L988.49,519.64 L989.57,519.11 L990.66,518.58 L991.74,518.06 L992.83,517.53 L993.91,517.00 L995.00,516.47 L996.09,515.94 L997.17,515.40 L998.26,514.87 L999.34,514.34 L1000.43,513.80 L1001.51,513.27 L1002.60,512.73 L1003.69,512.20 L1004.77,511.66 L1005.86,511.12 L1006.94,510.58 L1008.03,510.04 L1009.11,509.50 L1010.20,508.96 L1011.28,508.42 L1012.37,507.87 L1013.46,507.33 L1014.54,506.79 L1015.63,506.24 L1016.71,505.69 L1017.80,505.15 L1018.88,504.60 L1019.97,504.05 L1021.05,503.50 L1022.14,502.95 L1023.23,502.40 L1024.31,501.85 L1025.40,501.29 L1026.48,500.74 L1027.57,500.18 L1028.65,499.63 L1029.74,499.07 L1030.82,498.52 L1031.91,497.96 L1033.00,497.40 L1034.08,496.84 L1035.17,496.28 L1036.25,495.72 L1037.34,495.16 L1038.42,494.59 L1039.51,494.03 L1040.59,493.47 L1041.68,492.90 L1042.77,492.33 L1043.85,491.77 L1044.94,491.20 L1046.02,490.63 L1047.11,490.06 L1048.19,489.49 L1049.28,488.92 L1050.37,488.35 L1051.45,487.78 L1052.54,487.20 L1053.62,486.63 L1054.71,486.06 L1055.79,485.48 L1056.88,484.90 L1057.96,484.33 L1059.05,483.75 L1060.14,483.17 L1061.22,482.59 L1062.31,482.01 L1063.39,481.43 L1064.48,480.84 L1065.56,480.26 L1066.65,479.68 L1067.73,479.09 L1068.82,478.51 L1069.91,477.92 L1070.99,477.33 L1072.08,476.75 L1073.16,476.16 L1074.25,475.57 L1075.33,474.98 L1076.42,474.39 L1077.50,473.79 L1078.59,473.20 L1079.68,472.61 L1080.76,472.01 L1081.85,471.42 L1082.93,470.82 L1084.02,470.22 L1085.10,469.63 L1086.19,469.03 L1087.27,468.43 L1088.36,467.83 L1089.45,467.23 L1090.53,466.63 L1091.62,466.02 L1092.70,465.42 L1093.79,464.82 L1094.87,464.21 L1095.96,463.61 L1097.05,463.00 L1098.13,462.39 L1099.22,461.78 L1100.30,461.17 L1101.39,460.56 L1102.47,459.95 L1103.56,459.34 L1104.64,458.73 L1105.73,458.12 L1106.82,457.50 L1107.90,456.89 L1108.99,456.27 L1110.07,455.66 L1111.16,455.04 L1112.24,454.42 L1113.33,453.80 L1114.41,453.18 L1115.50,452.56 L1116.59,451.94 L1117.67,451.32 L1118.76,450.69 L1119.84,450.07 L1120.93,449.45 L1122.01,448.82 L1123.10,448.20 L1124.18,447.57 L1125.27,446.94 L1126.36,446.31 L1127.44,445.68 L1128.53,445.05 L1129.61,444.42 L1130.70,443.79 L1131.78,443.16 L1132.87,442.52 L1133.95,441.89 L1135.04,441.25 L1136.13,440.62 L1137.21,439.98 L1138.30,439.34 L1139.38,438.70 L1140.47,438.07 L1141.55,437.43 L1142.64,436.78 L1143.73,436.14 L1144.81,435.50 L1145.90,434.86 L1146.98,434.21 L1148.07,433.57 L1149.15,432.92 L1150.24,432.28 L1151.32,431.63 L1152.41,430.98 L1153.50,430.33 L1154.58,429.68 L1155.67,429.03 L1156.75,428.38 L1157.84,427.73 L1158.92,427.07 L1160.01,426.42 L1161.09,425.77 L1162.18,425.11 L1163.27,424.45 L1164.35,423.80 L1165.44,423.14 L1166.52,422.48 L1167.61,421.82 L1168.69,421.16 L1169.78,420.50 L1170.86,419.84 L1171.95,419.17 L1173.04,418.51 L1174.12,417.85 L1175.21,417.18 L1176.29,416.52 L1177.38,415.85 L1178.46,415.18 L1179.55,414.51 L1180.64,413.84 L1181.72,413.17 L1182.81,412.50 L1183.89,411.83 L1184.98,411.16 L1186.06,410.48 L1187.15,409.81 L1188.23,409.14 L1189.32,408.46 L1190.41,407.78 L1191.49,407.11 L1192.58,406.43 L1193.66,405.75 L1194.75,405.07 L1195.83,404.39 L1196.92,403.71 L1198.00,403.02 L1199.09,402.34 L1200.18,401.66 L1201.26,400.97 L1202.35,400.29 L1203.43,399.60 L1204.52,398.91 L1205.60,398.22 L1206.69,397.54 L1207.77,396.85 L1208.86,396.16 L1209.95,395.46 L1211.03,394.77 L1212.12,394.08 L1213.20,393.39 L1214.29,392.69 L1215.37,392.00 L1216.46,391.30 L1217.54,390.60 L1218.63,389.90 L1219.72,389.21 L1220.80,388.51 L1221.89,387.81 L1222.97,387.11 L1224.06,386.40 L1225.14,385.70 L1226.23,385.00 L1227.32,384.29 L1228.40,383.59 L1229.49,382.88 L1230.57,382.18 L1231.66,381.47 L1232.74,380.76 L1233.83,380.05 L1234.91,379.34 L1236.00,378.63 L1237.09,377.92 L1238.17,377.21 L1239.26,376.49 L1240.34,375.78 L1241.43,375.06 L1242.51,374.35 L1243.60,373.63 L1244.68,372.91 L1245.77,372.20 L1246.86,371.48 L1247.94,370.76 L1249.03,370.04 L1250.11,369.31 L1251.20,368.59 L1252.28,367.87 L1253.37,367.15 L1254.45,366.42 L1255.54,365.70 L1256.63,364.97 L1257.71,364.24 L1258.80,363.51 L1259.88,362.79 L1260.97,362.06 L1262.05,361.33 L1263.14,360.59 L1264.23,359.86 L1265.31,359.13 L1266.40,358.40 L1267.48,357.66 L1268.57,356.93 L1269.65,356.19 L1270.74,355.45 L1271.82,354.72 L1272.91,353.98 L1274.00,353.24 L1275.08,352.50 L1276.17,351.76 L1277.25,351.02 L1278.34,350.27 L1279.42,349.53 L1280.51,348.79 L1281.59,348.04 L1282.68,347.29 L1283.77,346.55 L1284.85,345.80 L1285.94,345.05 L1287.02,344.30 L1288.11,343.55 L1289.19,342.80 L1290.28,342.05 L1291.36,341.30 L1292.45,340.55 L1293.54,339.79 L1294.62,339.04 L1295.71,338.28 L1296.79,337.53 L1297.88,336.77 L1298.96,336.01 L1300.05,335.25 L1301.13,334.49 L1302.22,333.73 L1303.31,332.97 L1304.39,332.21 L1305.48,331.44 L1306.56,330.68 L1307.65,329.92 L1308.73,329.15 L1309.82,328.39 L1310.91,327.62 L1311.99,326.85 L1313.08,326.08 L1314.16,325.31 L1315.25,324.54 L1316.33,323.77 L1317.42,323.00 L1318.50,322.23 L1319.59,321.45 L1320.68,320.68 L1321.76,319.90 L1322.85,319.13 L1323.93,318.35 L1325.02,317.57 L1326.10,316.80 L1327.19,316.02 L1328.27,315.24 L1329.36,314.46 L1330.45,313.67 L1331.53,312.89 L1332.62,312.11 L1333.70,311.32 L1334.79,310.54 L1335.87,309.75 L1336.96,308.97 L1338.04,308.18 L1339.13,307.39 L1340.22,306.60 L1341.30,305.81 L1342.39,305.02 L1343.47,304.23 L1344.56,303.44 L1345.64,302.65 L1346.73,301.85 L1347.81,301.06 L1348.90,300.26 L1349.99,299.47 L1351.07,298.67 L1352.16,297.87 L1353.24,297.07 L1354.33,296.27 L1355.41,295.47 L1356.50,294.67 L1357.59,293.87 L1358.67,293.07 L1359.76,292.26 L1360.84,291.46 L1361.93,290.65 L1363.01,289.85 L1364.10,289.04 L1365.18,288.23 L1366.27,287.42 L1367.36,286.61 L1368.44,285.80 L1369.53,284.99 L1370.61,284.18 L1371.70,283.37 L1372.78,282.56 L1373.87,281.74 L1374.95,280.93 L1376.04,280.11 L1377.13,279.29 L1378.21,278.48 L1379.30,277.66 L1380.38,276.84 L1381.47,276.02 L1382.55,275.20 L1383.64,274.38 L1384.72,273.56 L1385.81,272.73 L1386.90,271.91 L1387.98,271.08 L1389.07,270.26 L1390.15,269.43 L1391.24,268.60 L1392.32,267.78 L1393.41,266.95 L1394.50,266.12 L1395.58,265.29 L1396.67,264.46 L1397.75,263.62 L1398.84,262.79 L1399.92,261.96 L1401.01,261.12 L1402.09,260.29 L1403.18,259.45 L1404.27,258.62 L1405.35,257.78 L1406.44,256.94 L1407.52,256.10 L1408.61,255.26 L1409.69,254.42 L1410.78,253.58 L1411.86,252.73 L1412.95,251.89 L1414.04,251.05 L1415.12,250.20 L1416.21,249.36 L1417.29,248.51 L1418.38,247.66 L1419.46,246.81 L1420.55,245.96 L1421.63,245.11 L1422.72,244.26 L1423.81,243.41 L1424.89,242.56 L1425.98,241.71 L1427.06,240.85 L1428.15,240.00 L1429.23,239.14 L1430.32,238.28 L1431.40,237.43 L1432.49,236.57 L1433.58,235.71 L1434.66,234.85 L1435.75,233.99 L1436.83,233.13 L1437.92,232.27 L1439.00,231.40 L1440.09,230.54 L1441.18,229.68 L1442.26,228.81 L1443.35,227.94 L1444.43,227.08 L1445.52,226.21 L1446.60,225.34 L1447.69,224.47 L1448.77,223.60 L1449.86,222.73 L1450.95,221.86 L1452.03,220.98 L1453.12,220.11 L1454.20,219.24 L1455.29,218.36 L1456.37,217.49 L1457.46,216.61 L1458.54,215.73 L1459.63,214.85 L1460.72,213.97 L1461.80,213.09 L1462.89,212.21 L1463.97,211.33 L1465.06,210.45 L1466.14,209.56 L1467.23,208.68 L1468.31,207.80 L1469.40,206.91 L1470.49,206.02 L1471.57,205.14 L1472.66,204.25 L1473.74,203.36 L1474.83,202.47 L1475.91,201.58 L1477.00,200.69 L1478.08,199.79 L1479.17,198.90 L1480.26,198.01 L1481.34,197.11 L1482.43,196.22 L1483.51,195.32 L1484.60,194.42 L1485.68,193.53 L1486.77,192.63 L1487.86,191.73 L1488.94,190.83 L1490.03,189.93 L1491.11,189.02 L1492.20,188.12 L1493.28,187.22 L1494.37,186.31 L1495.45,185.41 L1496.54,184.50 L1497.63,183.59 L1498.71,182.69 L1499.80,181.78 L1500.88,180.87 L1501.97,179.96 L1503.05,179.05 L1504.14,178.14 L1505.22,177.22 L1506.31,176.31 L1507.40,175.40 L1508.48,174.48 L1509.57,173.56 L1510.65,172.65 L1511.74,171.73 L1512.82,170.81 L1513.91,169.89 L1514.99,168.97 L1516.08,168.05 L1517.17,167.13 L1518.25,166.21 L1519.34,165.28 L1520.42,164.36 L1521.51,163.44 L1522.59,162.51 L1523.68,161.58 L1524.77,160.66 L1525.85,159.73 L1526.94,158.80 L1528.02,157.87 L1529.11,156.94 L1530.19,156.01 L1531.28,155.08 L1532.36,154.14 L1533.45,153.21 L1534.54,152.27 L1535.62,151.34 L1536.71,150.40 L1537.79,149.47 L1538.88,148.53 L1539.96,147.59 L1541.05,146.65 L1542.13,145.71 L1543.22,144.77 L1544.31,143.83 L1545.39,142.88 L1546.48,141.94 L1547.56,141.00 L1548.65,140.05 L1549.73,139.10 L1550.82,138.16 L1551.90,137.21 L1552.99,136.26 L1554.08,135.31 L1555.16,134.36 L1556.25,133.41 L1557.33,132.46 L1558.42,131.51 L1559.50,130.55 L1560.59,129.60 L1561.67,128.65 L1562.76,127.69 L1563.85,126.73 L1564.93,125.78 L1566.02,124.82 L1567.10,123.86 L1568.19,122.90 L1569.27,121.94 L1570.36,120.98 L1571.45,120.01 L1572.53,119.05 L1573.62,118.09 L1574.70,117.12 L1575.79,116.16 L1576.87,115.19 L1577.96,114.22 L1579.04,113.26 L1580.13,112.29 L1581.22,111.32 L1582.30,110.35 L1583.39,109.38 L1584.47,108.40" stroke="#ff0000"/>
<path d="M287.20,559.23 L288.29,559.23 L289.37,559.23 L290.46,559.23 L291.54,559.23 L292.63,559.23 L293.71,559.22 L294.80,559.22 L295.88,559.22 L296.97,559.21 L298.06,559.21 L299.14,559.21 L300.23,559.20 L301.31,559.20 L302.40,559.19 L303.48,559.19 L304.57,559.18 L305.65,559.17 L306.74,559.17 L307.83,559.16 L308.91,559.15 L310.00,559.14 L311.08,559.13 L312.17,559.12 L313.25,559.11 L314.34,559.10 L315.43,559.09 L316.51,559.08 L317.60,559.07 L318.68,559.06 L319.77,559.05 L320.85,559.04 L321.94,559.02 L323.02,559.01 L324.11,559.00 L325.20,558.98 L326.28,558.97 L327.37,558.95 L328.45,558.94 L329.54,558.92 L330.62,558.91 L331.71,558.89 L332.79,558.87 L333.88,558.86 L334.97,558.84 L336.05,558.82 L337.14,558.80 L338.22,558.78 L339.31,558.76 L340.39,558.74 L341.48,558.72 L342.56,558.70 L343.65,558.68 L344.74,558.66 L345.82,558.64 L346.91,558.62 L347.99,558.59 L349.08,558.57 L350.16,558.55 L351.25,558.52 L352.33,558.50 L353.42,558.47 L354.51,558.45 L355.59,558.42 L356.68,558.40 L357.76,558.37 L358.85,558.35 L359.93,558.32 L361.02,558.29 L362.11,558.26 L363.19,558.23 L364.28,558.21 L365.36,558.18 L366.45,558.15 L367.53,558.12 L368.62,558.09 L369.70,558.06 L370.79,558.03 L371.88,557.99 L372.96,557.96 L374.05,557.93 L375.13,557.90 L376.22,557.86 L377.30,557.83 L378.39,557.80 L379.47,557.76 L380.56,557.73 L381.65,557.69 L382.73,557.66 L383.82,557.62 L384.90,557.58 L385.99,557.55 L387.07,557.51 L388.16,557.47 L389.24,557.43 L390.33,557.40 L391.42,557.36 L392.50,557.32 L393.59,557.28 L394.67,557.24 L395.76,557.20 L396.84,557.16 L397.93,557.11 L399.02,557.07 L400.10,557.03 L401.19,556.99 L402.27,556.95 L403.36,556.90 L404.44,556.86 L405.53,556.81 L406.61,556.77 L407.70,556.72 L408.79,556.68 L409.87,556.63 L410.96,556.59 L412.04,556.54 L413.13,556.49 L414.21,556.45 L415.30,556.40 L416.38,556.35 L417.47,556.30 L418.56,556.25 L419.64,556.20 L420.73,556.15 L421.81,556.10 L422.90,556.05 L423.98,556.00 L425.07,555.95 L426.15,555.90 L427.24,555.85 L428.33,555.79 L429.41,555.74 L430.50,555.69 L431.58,555.63 L432.67,555.58 L433.75,555.52 L434.84,555.47 L435.92,555.41 L437.01,555.36 L438.10,555.30 L439.18,555.24 L440.27,555.19 L441.35,555.13 L442.44,555.07 L443.52,555.01 L444.61,554.95 L445.70,554.89 L446.78,554.84 L447.87,554.78 L448.95,554.71 L450.04,554.65 L451.12,554.59 L452.21,554.53 L453.29,554.47 L454.38,554.41 L455.47,554.34 L456.55,554.28 L457.64,554.22 L458.72,554.15 L459.81,554.09 L460.89,554.02 L461.98,553.96 L463.06,553.89 L464.15,553.83 L465.24,553.76 L466.32,553.69 L467.41,553.63 L468.49,553.56 L469.58,553.49 L470.66,553.42 L471.75,553.35 L472.83,553.28 L473.92,553.21 L475.01,553.14 L476.09,553.07 L477.18,553.00 L478.26,552.93 L479.35,552.86 L480.43,552.79 L481.52,552.71 L482.61,552.64 L483.69,552.57 L484.78,552.49 L485.86,552.42 L486.95,552.34 L488.03,552.27 L489.12,552.19 L490.20,552.12 L491.29,552.04 L492.38,551.96 L493.46,551.89 L494.55,551.81 L495.63,551.73 L496.72,551.65 L497.80,551.57 L498.89,551.50 L499.97,551.42 L501.06,551.34 L502.15,551.26 L503.23,551.17 L504.32,551.09 L505.40,551.01 L506.49,550.93 L507.57,550.85 L508.66,550.76 L509.74,550.68 L510.83,550.60 L511.92,550.51 L513.00,550.43 L514.09,550.34 L515.17,550.26 L516.26,550.17 L517.34,550.09 L518.43,550.00 L519.51,549.91 L520.60,549.83 L521.69,549.74 L522.77,549.65 L523.86,549.56 L524.94,549.47 L526.03,549.38 L527.11,549.30 L528.20,549.21 L529.29,549.11 L530.37,549.02 L531.46,548.93 L532.54,548.84 L533.63,548.75 L534.71,548.66 L535.80,548.56 L536.88,548.47 L537.97,548.38 L539.06,548.28 L540.14,548.19 L541.23,548.09 L542.31,548.00 L543.40,547.90 L544.48,547.80 L545.57,547.71 L546.65,547.61 L547.74,547.51 L548.83,547.42 L549.91,547.32 L551.00,547.22 L552.08,547.12 L553.17,547.02 L554.25,546.92 L555.34,546.82 L556.42,546.72 L557.51,546.62 L558.60,546.52 L559.68,546.41 L560.77,546.31 L561.85,546.21 L562.94,546.11 L564.02,546.00 L565.11,545.90 L566.19,545.79 L567.28,545.69 L568.37,545.58 L569.45,545.48 L570.54,545.37 L571.62,545.27 L572.71,545.16 L573.79,545.05 L574.88,544.94 L575.97,544.84 L577.05,544.73 L578.14,544.62 L579.22,544.51 L580.31,544.40 L581.39,544.29 L582.48,544.18 L583.56,544.07 L584.65,543.96 L585.74,543.85 L586.82,543.73 L587.91,543.62 L588.99,543.51 L590.08,543.40 L591.16,543.28 L592.25,543.17 L593.33,543.05 L594.42,542.94 L595.51,542.82 L596.59,542.71 L597.68,542.59 L598.76,542.47 L599.85,542.36 L600.93,542.24 L602.02,542.12 L603.10,542.00 L604.19,541.89 L605.28,541.77 L606.36,541.65 L607.45,541.53 L608.53,541.41 L609.62,541.29 L610.70,541.17 L611.79,541.04 L612.88,540.92 L613.96,540.80 L615.05,540.68 L616.13,540.55 L617.22,540.43 L618.30,540.31 L619.39,540.18 L620.47,540.06 L621.56,539.93 L622.65,539.81 L623.73,539.68 L624.82,539.55 L625.90,539.43 L626.99,539.30 L628.07,539.17 L629.16,539.05 L630.24,538.92 L631.33,538.79 L632.42,538.66 L633.50,538.53 L634.59,538.40 L635.67,538.27 L636.76,538.14 L637.84,538.01 L638.93,537.88 L640.01,537.74 L641.10,537.61 L642.19,537.48 L643.27,537.34 L644.36,537.21 L645.44,537.08 L646.53,536.94 L647.61,536.81 L648.70,536.67 L649.78,536.54 L650.87,536.40 L651.96,536.26 L653.04,536.13 L654.13,535.99 L655.21,535.85 L656.30,535.71 L657.38,535.58 L658.47,535.44 L659.56,535.30 L660.64,535.16 L661.73,535.02 L662.81,534.88 L663.90,534.74 L664.98,534.59 L666.07,534.45 L667.15,534.31 L668.24,534.17 L669.33,534.02 L670.41,533.88 L671.50,533.74 L672.58,533.59 L673.67,533.45 L674.75,533.30 L675.84,533.16 L676.92,533.01 L678.01,532.87 L679.10,532.72 L680.18,532.57 L681.27,532.42 L682.35,532.28 L683.44,532.13 L684.52,531.98 L685.61,531.83 L686.69,531.68 L687.78,531.53 L688.87,531.38 L689.95,531.23 L691.04,531.08 L692.12,530.93 L693.21,530.78 L694.29,530.62 L695.38,530.47 L696.46,530.32 L697.55,530.16 L698.64,530.01 L699.72,529.85 L700.81,529.70 L701.89,529.54 L702.98,529.39 L704.06,529.23 L705.15,529.08 L706.24,528.92 L707.32,528.76 L708.41,528.60 L709.49,528.45 L710.58,528.29 L711.66,528.13 L712.75,527.97 L713.83,527.81 L714.92,527.65 L716.01,527.49 L717.09,527.33 L718.18,527.17 L719.26,527.01 L720.35,526.84 L721.43,526.68 L722.52,526.52 L723.60,526.35 L724.69,526.19 L725.78,526.03 L726.86,525.86 L727.95,525.70 L729.03,525.53 L730.12,525.37 L731.20,525.20 L732.29,525.03 L733.37,524.87 L734.46,524.70 L735.55,524.53 L736.63,524.36 L737.72,524.19 L738.80,524.03 L739.89,523.86 L740.97,523.69 L742.06,523.52 L743.14,523.34 L744.23,523.17 L745.32,523.00 L746.40,522.83 L747.49,522.66 L748.57,522.49 L749.66,522.31 L750.74,522.14 L751.83,521.96 L752.92,521.79 L754.00,521.62 L755.09,521.44 L756.17,521.26 L757.26,521.09 L758.34,520.91 L759.43,520.74 L760.51,520.56 L761.60,520.38 L762.69,520.20 L763.77,520.02 L764.86,519.85 L765.94,519.67 L767.03,519.49 L768.11,519.31 L769.20,519.13 L770.28,518.95 L771.37,518.76 L772.46,518.58 L773.54,518.40 L774.63,518.22 L775.71,518.04 L776.80,517.85 L777.88,517.67 L778.97,517.48 L780.05,517.30 L781.14,517.11 L782.23,516.93 L783.31,516.74 L784.40,516.56 L785.48,516.37 L786.57,516.18 L787.65,516.00 L788.74,515.81 L789.83,515.62 L790.91,515.43 L792.00,515.24 L793.08,515.05 L794.17,514.86 L795.25,514.67 L796.34,514.48 L797.42,514.29 L798.51,514.10 L799.60,513.91 L800.68,513.72 L801.77,513.52 L802.85,513.33 L803.94,513.14 L805.02,512.94 L806.11,512.75 L807.19,512.55 L808.28,512.36 L809.37,512.16 L810.45,511.97 L811.54,511.77 L812.62,511.57 L813.71,511.38 L814.79,511.18 L815.88,510.98 L816.96,510.78 L818.05,510.59 L819.14,510.39 L820.22,510.19 L821.31,509.99 L822.39,509.79 L823.48,509.59 L824.56,509.38 L825.65,509.18 L826.73,508.98 L827.82,508.78 L828.91,508.58 L829.99,508.37 L831.08,508.17 L832.16,507.96 L833.25,507.76 L834.33,507.55 L835.42,507.35 L836.51,507.14 L837.59,506.94 L838.68,506.73 L839.76,506.52 L840.85,506.32 L841.93,506.11 L843.02,505.90 L844.10,505.69 L845.19,505.48 L846.28,505.27 L847.36,505.06 L848.45,504.85 L849.53,504.64 L850.62,504.43 L851.70,504.22 L852.79,504.01 L853.87,503.80 L854.96,503.59 L856.05,503.37 L857.13,503.16 L858.22,502.94 L859.30,502.73 L860.39,502.52 L861.47,502.30 L862.56,502.09 L863.64,501.87 L864.73,501.65 L865.82,501.44 L866.90,501.22 L867.99,501.00 L869.07,500.78 L870.16,500.57 L871.24,500.35 L872.33,500.13 L873.41,499.91 L874.50,499.69 L875.59,499.47 L876.67,499.25 L877.76,499.03 L878.84,498.81 L879.93,498.58 L881.01,498.36 L882.10,498.14 L883.19,497.91 L884.27,497.69 L885.36,497.47 L886.44,497.24 L887.53,497.02 L888.61,496.79 L889.70,496.57 L890.78,496.34 L891.87,496.11 L892.96,495.89 L894.04,495.66 L895.13,495.43 L896.21,495.21 L897.30,494.98 L898.38,494.75 L899.47,494.52 L900.55,494.29 L901.64,494.06 L902.73,493.83 L903.81,493.60 L904.90,493.37 L905.98,493.13 L907.07,492.90 L908.15,492.67 L909.24,492.44 L910.32,492.20 L911.41,491.97 L912.50,491.74 L913.58,491.50 L914.67,491.27 L915.75,491.03 L916.84,490.79 L917.92,490.56 L919.01,490.32 L920.10,490.09 L921.18,489.85 L922.27,489.61 L923.35,489.37 L924.44,489.13 L925.52,488.89 L926.61,488.65 L927.69,488.41 L928.78,488.17 L929.87,487.93 L930.95,487.69 L932.04,487.45 L933.12,487.21 L934.21,486.97 L935.29,486.72 L936.38,486.48 L937.46,486.24 L938.55,485.99 L939.64,485.75 L940.72,485.50 L941.81,485.26 L942.89,485.01 L943.98,484.77 L945.06,484.52 L946.15,484.27 L947.23,484.03 L948.32,483.78 L949.41,483.53 L950.49,483.28 L951.58,483.03 L952.66,482.79 L953.75,482.54 L954.83,482.29 L955.92,482.04 L957.00,481.78 L958.09,481.53 L959.18,481.28 L960.26,481.03 L961.35,480.78 L962.43,480.52 L963.52,480.27 L964.60,480.02 L965.69,479.76 L966.78,479.51 L967.86,479.25 L968.95,479.00 L970.03,478.74 L971.12,478.49 L972.20,478.23 L973.29,477.97 L974.37,477.72 L975.46,477.46 L976.55,477.20 L977.63,476.94 L978.72,476.68 L979.80,476.42 L980.89,476.16 L981.97,475.90 L983.06,475.64 L984.14,475.38 L985.23,475.12 L986.32,474.86 L987.40,474.60 L988.49,474.33 L989.57,474.07 L990.66,473.81 L991.74,473.54 L992.83,473.28 L993.91,473.01 L995.00,472.75 L996.09,472.48 L997.17,472.22 L998.26,471.95 L999.34,471.68 L1000.43,471.42 L1001.51,471.15 L1002.60,470.88 L1003.69,470.61 L1004.77,470.35 L1005.86,470.08 L1006.94,469.81 L1008.03,469.54 L1009.11,469.27 L1010.20,469.00 L1011.28,468.72 L1012.37,468.45 L1013.46,468.18 L1014.54,467.91 L1015.63,467.64 L1016.71,467.36 L1017.80,467.09 L1018.88,466.81 L1019.97,466.54 L1021.05,466.27 L1022.14,465.99 L1023.23,465.71 L1024.31,465.44 L1025.40,465.16 L1026.48,464.88 L1027.57,464.61 L1028.65,464.33 L1029.74,464.05 L1030.82,463.77 L1031.91,463.49 L1033.00,463.22 L1034.08,462.94 L1035.17,462.66 L1036.25,462.37 L1037.34,462.09 L1038.42,461.81 L1039.51,461.53 L1040.59,461.25 L1041.68,460.97 L1042.77,460.68 L1043.85,460.40 L1044.94,460.12 L1046.02,459.83 L1047.11,459.55 L1048.19,459.26 L1049.28,458.98 L1050.37,458.69 L1051.45,458.40 L1052.54,458.12 L1053.62,457.83 L1054.71,457.54 L1055.79,457.26 L1056.88,456.97 L1057.96,456.68 L1059.05,456.39 L1060.14,456.10 L1061.22,455.81 L1062.31,455.52 L1063.39,455.23 L1064.48,454.94 L1065.56,454.65 L1066.65,454.35 L1067.73,454.06 L1068.82,453.77 L1069.91,453.48 L1070.99,453.18 L1072.08,452.89 L1073.16,452.59 L1074.25,452.30 L1075.33,452.00 L1076.42,451.71 L1077.50,451.41 L1078.59,451.12 L1079.68,450.82 L1080.76,450.52 L1081.85,450.22 L1082.93,449.93 L1084.02,449.63 L1085.10,449.33 L1086.19,449.03 L1087.27,448.73 L1088.36,448.43 L1089.45,448.13 L1090.53,447.83 L1091.62,447.53 L1092.70,447.23 L1093.79,446.92 L1094.87,446.62 L1095.96,446.32 L1097.05,446.02 L1098.13,445.71 L1099.22,445.41 L1100.30,445.10 L1101.39,444.80 L1102.47,444.49 L1103.56,444.19 L1104.64,443.88 L1105.73,443.57 L1106.82,443.27 L1107.90,442.96 L1108.99,442.65 L1110.07,442.34 L1111.16,442.03 L1112.24,441.73 L1113.33,441.42 L1114.41,441.11 L1115.50,440.80 L1116.59,440.49 L1117.67,440.17 L1118.76,439.86 L1119.84,439.55 L1120.93,439.24 L1122.01,438.93 L1123.10,438.61 L1124.18,438.30 L1125.27,437.99 L1126.36,437.67 L1127.44,437.36 L1128.53,437.04 L1129.61,436.73 L1130.70,436.41 L1131.78,436.09 L1132.87,435.78 L1133.95,435.46 L1135.04,435.14 L1136.13,434.82 L1137.21,434.51 L1138.30,434.19 L1139.38,433.87 L1140.47,433.55 L1141.55,433.23 L1142.64,432.91 L1143.73,432.59 L1144.81,432.27 L1145.90,431.94 L1146.98,431.62 L1148.07,431.30 L1149.15,430.98 L1150.24,430.65 L1151.32,430.33 L1152.41,430.01 L1153.50,429.68 L1154.58,429.36 L1155.67,429.03 L1156.75,428.71 L1157.84,428.38 L1158.92,428.05 L1160.01,427.73 L1161.09,427.40 L1162.18,427.07 L1163.27,426.74 L1164.35,426.41 L1165.44,426.09 L1166.52,425.76 L1167.61,425.43 L1168.69,425.10 L1169.78,424.77 L1170.86,424.43 L1171.95,424.10 L1173.04,423.77 L1174.12,423.44 L1175.21,423.11 L1176.29,422.77 L1177.38,422.44 L1178.46,422.11 L1179.55,421.77 L1180.64,421.44 L1181.72,421.10 L1182.81,420.77 L1183.89,420.43 L1184.98,420.09 L1186.06,419.76 L1187.15,419.42 L1188.23,419.08 L1189.32,418.75 L1190.41,418.41 L1191.49,418.07 L1192.58,417.73 L1193.66,417.39 L1194.75,417.05 L1195.83,416.71 L1196.92,416.37 L1198.00,416.03 L1199.09,415.69 L1200.18,415.34 L1201.26,415.00 L1202.35,414.66 L1203.43,414.32 L1204.52,413.97 L1205.60,413.63 L1206.69,413.28 L1207.77,412.94 L1208.86,412.59 L1209.95,412.25 L1211.03,411.90 L1212.12,411.56 L1213.20,411.21 L1214.29,410.86 L1215.37,410.51 L1216.46,410.17 L1217.54,409.82 L1218.63,409.47 L1219.72,409.12 L1220.80,408.77 L1221.89,408.42 L1222.97,408.07 L1224.06,407.72 L1225.14,407.37 L1226.23,407.01 L1227.32,406.66 L1228.40,406.31 L1229.49,405.96 L1230.57,405.60 L1231.66,405.25 L1232.74,404.90 L1233.83,404.54 L1234.91,404.19 L1236.00,403.83 L1237.09,403.47 L1238.17,403.12 L1239.26,402.76 L1240.34,402.40 L1241.43,402.05 L1242.51,401.69 L1243.60,401.33 L1244.68,400.97 L1245.77,400.61 L1246.86,400.25 L1247.94,399.89 L1249.03,399.53 L1250.11,399.17 L1251.20,398.81 L1252.28,398.45 L1253.37,398.09 L1254.45,397.73 L1255.54,397.36 L1256.63,397.00 L1257.71,396.64 L1258.80,396.27 L1259.88,395.91 L1260.97,395.54 L1262.05,395.18 L1263.14,394.81 L1264.23,394.45 L1265.31,394.08 L1266.40,393.71 L1267.48,393.35 L1268.57,392.98 L1269.65,392.61 L1270.74,392.24 L1271.82,391.87 L1272.91,391.50 L1274.00,391.13 L1275.08,390.76 L1276.17,390.39 L1277.25,390.02 L1278.34,389.65 L1279.42,389.28 L1280.51,388.91 L1281.59,388.54 L1282.68,388.16 L1283.77,387.79 L1284.85,387.42 L1285.94,387.04 L1287.02,386.67 L1288.11,386.29 L1289.19,385.92 L1290.28,385.54 L1291.36,385.17 L1292.45,384.79 L1293.54,384.41 L1294.62,384.03 L1295.71,383.66 L1296.79,383.28 L1297.88,382.90 L1298.96,382.52 L1300.05,382.14 L1301.13,381.76 L1302.22,381.38 L1303.31,381.00 L1304.39,380.62 L1305.48,380.24 L1306.56,379.86 L1307.65,379.47 L1308.73,379.09 L1309.82,378.71 L1310.91,378.32 L1311.99,377.94 L1313.08,377.56 L1314.16,377.17 L1315.25,376.79 L1316.33,376.40 L1317.42,376.02 L1318.50,375.63 L1319.59,375.24 L1320.68,374.86 L1321.76,374.47 L1322.85,374.08 L1323.93,373.69 L1325.02,373.30 L1326.10,372.91 L1327.19,372.52 L1328.27,372.13 L1329.36,371.74 L1330.45,371.35 L1331.53,370.96 L1332.62,370.57 L1333.70,370.18 L1334.79,369.79 L1335.87,369.39 L1336.96,369.00 L1338.04,368.61 L1339.13,368.21 L1340.22,367.82 L1341.30,367.42 L1342.39,367.03 L1343.47,366.63 L1344.56,366.23 L1345.64,365.84 L1346.73,365.44 L1347.81,365.04 L1348.90,364.65 L1349.99,364.25 L1351.07,363.85 L1352.16,363.45 L1353.24,363.05 L1354.33,362.65 L1355.41,362.25 L1356.50,361.85 L1357.59,361.45 L1358.67,361.05 L1359.76,360.65 L1360.84,360.24 L1361.93,359.84 L1363.01,359.44 L1364.10,359.04 L1365.18,358.63 L1366.27,358.23 L1367.36,357.82 L1368.44,357.42 L1369.53,357.01 L1370.61,356.61 L1371.70,356.20 L1372.78,355.79 L1373.87,355.39 L1374.95,354.98 L1376.04,354.57 L1377.13,354.16 L1378.21,353.75 L1379.30,353.35 L1380.38,352.94 L1381.47,352.53 L1382.55,352.12 L1383.64,351.70 L1384.72,351.29 L1385.81,350.88 L1386.90,350.47 L1387.98,350.06 L1389.07,349.64 L1390.15,349.23 L1391.24,348.82 L1392.32,348.40 L1393.41,347.99 L1394.50,347.57 L1395.58,347.16 L1396.67,346.74 L1397.75,346.33 L1398.84,345.91 L1399.92,345.49 L1401.01,345.08 L1402.09,344.66 L1403.18,344.24 L1404.27,343.82 L1405.35,343.40 L1406.44,342.99 L1407.52,342.57 L1408.61,342.15 L1409.69,341.72 L1410.78,341.30 L1411.86,340.88 L1412.95,340.46 L1414.04,340.04 L1415.12,339.62 L1416.21,339.19 L1417.29,338.77 L1418.38,338.35 L1419.46,337.92 L1420.55,337.50 L1421.63,337.07 L1422.72,336.65 L1423.81,336.22 L1424.89,335.80 L1425.98,335.37 L1427.06,334.94 L1428.15,334.51 L1429.23,334.09 L1430.32,333.66 L1431.40,333.23 L1432.49,332.80 L1433.58,332.37 L1434.66,331.94 L1435.75,331.51 L1436.83,331.08 L1437.92,330.65 L1439.00,330.22 L1440.09,329.79 L1441.18,329.35 L1442.26,328.92 L1443.35,328.49 L1444.43,328.05 L1445.52,327.62 L1446.60,327.19 L1447.69,326.75 L1448.77,326.32 L1449.86,325.88 L1450.95,325.44 L1452.03,325.01 L1453.12,324.57 L1454.20,324.13 L1455.29,323.70 L1456.37,323.26 L1457.46,322.82 L1458.54,322.38 L1459.63,321.94 L1460.72,321.50 L1461.80,321.06 L1462.89,320.62 L1463.97,320.18 L1465.06,319.74 L1466.14,319.30 L1467.23,318.86 L1468.31,318.41 L1469.40,317.97 L1470.49,317.53 L1471.57,317.08 L1472.66,316.64 L1473.74,316.19 L1474.83,315.75 L1475.91,315.30 L1477.00,314.86 L1478.08,314.41 L1479.17,313.97 L1480.26,313.52 L1481.34,313.07 L1482.43,312.62 L1483.51,312.18 L1484.60,311.73 L1485.68,311.28 L1486.77,310.83 L1487.86,310.38 L1488.94,309.93 L1490.03,309.48 L1491.11,309.03 L1492.20,308.58 L1493.28,308.12 L1494.37,307.67 L1495.45,307.22 L1496.54,306.77 L1497.63,306.31 L1498.71,305.86 L1499.80,305.40 L1500.88,304.95 L1501.97,304.49 L1503.05,304.04 L1504.14,303.58 L1505.22,303.13 L1506.31,302.67 L1507.40,302.21 L1508.48,301.76 L1509.57,301.30 L1510.65,300.84 L1511.74,300.38 L1512.82,299.92 L1513.91,299.46 L1514.99,299.00 L1516.08,298.54 L1517.17,298.08 L1518.25,297.62 L1519.34,297.16 L1520.42,296.70 L1521.51,296.23 L1522.59,295.77 L1523.68,295.31 L1524.77,294.84 L1525.85,294.38 L1526.94,293.92 L1528.02,293.45 L1529.11,292.99 L1530.19,292.52 L1531.28,292.05 L1532.36,291.59 L1533.45,291.12 L1534.54,290.65 L1535.62,290.19 L1536.71,289.72 L1537.79,289.25 L1538.88,288.78 L1539.96,288.31 L1541.05,287.84 L1542.13,287.37 L1543.22,286.90 L1544.31,286.43 L1545.39,285.96 L1546.48,285.49 L1547.56,285.01 L1548.65,284.54 L1549.73,284.07 L1550.82,283.59 L1551.90,283.12 L1552.99,282.65 L1554.08,282.17 L1555.16,281.70 L1556.25,281.22 L1557.33,280.75 L1558.42,280.27 L1559.50,279.79 L1560.59,279.32 L1561.67,278.84 L1562.76,278.36 L1563.85,277.88 L1564.93,277.40 L1566.02,276.92 L1567.10,276.44 L1568.19,275.96 L1569.27,275.48 L1570.36,275.00 L1571.45,274.52 L1572.53,274.04 L1573.62,273.56 L1574.70,273.08 L1575.79,272.59 L1576.87,272.11 L1577.96,271.63 L1579.04,271.14 L1580.13,270.66 L1581.22,270.17 L1582.30,269.69 L1583.39,269.20 L1584.47,268.72 L1585.56,268.23 L1586.64,267.74 L1587.73,267.26 L1588.81,266.77 L1589.90,266.28" stroke="#00bfbf"/>
</g>
<g fill="none" stroke="#000" stroke-width="2.2" stroke-dasharray="14.005 14.005">
<path d="M287.20,758.60 H504.32"/>
<path d="M504.32,823.70 V758.60"/>
<path d="M287.20,587.71 H829.99"/>
<path d="M829.99,823.70 V587.71"/>
<path d="M287.20,429.03 H1155.67"/>
<path d="M1155.67,823.70 V429.03"/>
<path d="M287.20,355.79 H1372.78"/>
<path d="M1372.78,823.70 V355.79"/>
</g>
<g fill="#bfbf00" stroke="#000" stroke-width="1.1"><circle cx="504.32" cy="758.60" r="6.9"/><circle cx="829.99" cy="587.71" r="6.9"/><circle cx="1155.67" cy="429.03" r="6.9"/><circle cx="1372.78" cy="355.79" r="6.9"/></g>
</g>
<path d="M504.32,823.70 v-9.6 M504.32,172.70 v9.6 M829.99,823.70 v-9.6 M829.99,172.70 v9.6 M1155.67,823.70 v-9.6 M1155.67,172.70 v9.6 M1372.78,823.70 v-9.6 M1372.78,172.70 v9.6 M287.20,758.60 h9.6 M1589.90,758.60 h-9.6 M287.20,587.71 h9.6 M1589.90,587.71 h-9.6 M287.20,429.03 h9.6 M1589.90,429.03 h-9.6 M287.20,355.79 h9.6 M1589.90,355.79 h-9.6" stroke="#000" stroke-width="1.8" fill="none"/>
<rect x="287.2" y="172.7" width="1302.70" height="651.00" fill="none" stroke="#000" stroke-width="2.4"/>
<g id="ticklabels">
<text transform="matrix(1.1007,0,0,0.9573,462.34,856.00)" font-family="'Liberation Serif', serif" font-style="italic" font-size="33">x</text>
<text transform="matrix(1.0071,0,0,1.0328,479.85,861.70)" font-family="'Liberation Serif', serif" font-style="normal" font-size="22">1</text>
<rect x="501.00" y="844.05" width="21.40" height="1.6"/><rect x="501.00" y="850.40" width="21.40" height="1.6"/>
<text transform="matrix(1.0280,0,0,1.0069,530.21,856.00)" font-family="'Liberation Serif', serif" font-style="normal" font-size="33">2</text>
<text transform="matrix(1.1007,0,0,0.9573,788.02,856.00)" font-family="'Liberation Serif', serif" font-style="italic" font-size="33">x</text>
<text transform="matrix(0.8844,0,0,1.0298,806.62,861.70)" font-family="'Liberation Serif', serif" font-style="normal" font-size="22">2</text>
<rect x="826.67" y="844.05" width="21.40" height="1.6"/><rect x="826.67" y="850.40" width="21.40" height="1.6"/>
<text transform="matrix(1.0231,0,0,1.0181,855.41,856.00)" font-family="'Liberation Serif', serif" font-style="normal" font-size="33">5</text>
<text transform="matrix(1.1007,0,0,0.9573,1113.69,856.00)" font-family="'Liberation Serif', serif" font-style="italic" font-size="33">x</text>
<text transform="matrix(0.8583,0,0,1.0298,1132.25,861.70)" font-family="'Liberation Serif', serif" font-style="normal" font-size="22">3</text>
<rect x="1152.35" y="844.05" width="21.40" height="1.6"/><rect x="1152.35" y="850.40" width="21.40" height="1.6"/>
<text transform="matrix(0.9724,0,0,1.0024,1181.83,856.00)" font-family="'Liberation Serif', serif" font-style="normal" font-size="33">8</text>
<text transform="matrix(1.1480,0,0,0.9837,1322.36,856.50)" font-family="'Liberation Serif', serif" font-style="italic" font-size="33">x</text>
<text transform="matrix(1.0267,0,0,1.0359,1340.26,861.60)" font-family="'Liberation Serif', serif" font-style="normal" font-size="22">4</text>
<rect x="1360.90" y="844.55" width="22.00" height="1.6"/><rect x="1360.90" y="850.90" width="22.00" height="1.6"/>
<text transform="matrix(1.0263,0,0,1.0024,1389.72,856.50)" font-family="'Liberation Serif', serif" font-style="normal" font-size="33">10</text>
<text transform="matrix(1.2651,0,0,1.1142,133.77,363.80)" font-family="'Liberation Serif', serif" font-style="italic" font-size="33">t</text>
<text transform="matrix(0.9681,0,0,1.0013,147.78,369.50)" font-family="'Liberation Serif', serif" font-style="normal" font-size="22">4</text>
<rect x="168.00" y="351.80" width="21.90" height="1.6"/><rect x="168.00" y="358.00" width="21.90" height="1.6"/>
<text transform="matrix(0.9525,0,0,1.0023,197.72,363.80)" font-family="'Liberation Serif', serif" font-style="normal" font-size="33">2</text>
<text transform="matrix(0.8008,0,0,0.9979,214.69,363.80)" font-family="'Liberation Serif', serif" font-style="normal" font-size="33">8</text>
<text transform="matrix(1.1797,0,0,1.0000,229.63,363.80)" font-family="'Liberation Serif', serif" font-style="normal" font-size="33">.</text>
<text transform="matrix(0.8374,0,0,1.0135,244.98,363.80)" font-family="'Liberation Serif', serif" font-style="normal" font-size="33">7</text>
<text transform="matrix(0.9478,0,0,1.0135,261.48,363.80)" font-family="'Liberation Serif', serif" font-style="normal" font-size="33">5</text>
<text transform="matrix(1.2651,0,0,1.1142,133.77,435.90)" font-family="'Liberation Serif', serif" font-style="italic" font-size="33">t</text>
<text transform="matrix(1.0894,0,0,0.9954,147.05,441.60)" font-family="'Liberation Serif', serif" font-style="normal" font-size="22">3</text>
<rect x="168.00" y="423.90" width="21.90" height="1.6"/><rect x="168.00" y="430.10" width="21.90" height="1.6"/>
<text transform="matrix(0.9525,0,0,1.0023,197.72,435.90)" font-family="'Liberation Serif', serif" font-style="normal" font-size="33">2</text>
<text transform="matrix(0.7301,0,0,1.0083,215.23,435.90)" font-family="'Liberation Serif', serif" font-style="normal" font-size="33">4</text>
<text transform="matrix(1.1797,0,0,1.0000,229.63,435.90)" font-family="'Liberation Serif', serif" font-style="normal" font-size="33">.</text>
<text transform="matrix(0.8466,0,0,1.0023,245.57,435.90)" font-family="'Liberation Serif', serif" font-style="normal" font-size="33">2</text>
<text transform="matrix(0.9478,0,0,1.0135,261.48,435.90)" font-family="'Liberation Serif', serif" font-style="normal" font-size="33">5</text>
<text transform="matrix(1.2651,0,0,1.1142,150.77,595.10)" font-family="'Liberation Serif', serif" font-style="italic" font-size="33">t</text>
<text transform="matrix(1.0999,0,0,0.9886,163.54,600.40)" font-family="'Liberation Serif', serif" font-style="normal" font-size="22">2</text>
<rect x="184.90" y="583.10" width="21.60" height="1.6"/><rect x="184.90" y="589.30" width="21.60" height="1.6"/>
<text transform="matrix(0.9813,0,0,0.9915,213.75,595.10)" font-family="'Liberation Serif', serif" font-style="normal" font-size="33">1</text>
<text transform="matrix(0.8475,0,0,0.9944,230.45,595.10)" font-family="'Liberation Serif', serif" font-style="normal" font-size="33">4</text>
<text transform="matrix(1.1027,0,0,1.0000,246.50,595.10)" font-family="'Liberation Serif', serif" font-style="normal" font-size="33">.</text>
<text transform="matrix(1.0155,0,0,0.9996,260.85,595.10)" font-family="'Liberation Serif', serif" font-style="normal" font-size="33">5</text>
<text transform="matrix(1.2651,0,0,1.1142,197.17,766.00)" font-family="'Liberation Serif', serif" font-style="italic" font-size="33">t</text>
<text transform="matrix(1.0071,0,0,0.9984,210.05,771.70)" font-family="'Liberation Serif', serif" font-style="normal" font-size="22">1</text>
<rect x="231.20" y="754.00" width="21.70" height="1.6"/><rect x="231.20" y="760.20" width="21.70" height="1.6"/>
<text transform="matrix(0.9387,0,0,0.9944,260.99,766.00)" font-family="'Liberation Serif', serif" font-style="normal" font-size="33">4</text>
</g>
<g id="legend">
<rect x="299.3" y="184.7" width="511.4" height="94.9" fill="#fff" stroke="#000" stroke-width="2.4"/>
<g stroke-width="4.7" fill="none">
<path d="M313,206.4 H350.1" stroke="#0000ff"/>
<path d="M313,244.2 H350.1" stroke="#008000"/>
<path d="M560.4,206.3 H597.8" stroke="#ff0000"/>
<path d="M560.4,251 H597.8" stroke="#00bfbf"/>
</g>
<text transform="matrix(1.1758,0,0,1.1032,374.31,214.00)" font-family="'Liberation Serif', serif" font-style="italic" font-size="23">IC</text>
<text transform="matrix(1.1545,0,0,1.0262,399.83,217.80)" font-family="'Liberation Serif', serif" font-style="normal" font-size="15.5">1</text>
<rect x="415.40" y="204.93" width="15.70" height="1.15"/><rect x="415.40" y="209.43" width="15.70" height="1.15"/>
<text transform="matrix(0.9512,0,0,1.0000,436.67,214.00)" font-family="'Liberation Serif', serif" font-style="italic" font-size="23">q</text>
<text transform="matrix(1.0944,0,0,1.0718,448.45,205.20)" font-family="'Liberation Serif', serif" font-style="normal" font-size="15.5">2</text>
<text transform="matrix(1.1758,0,0,1.1032,374.31,251.10)" font-family="'Liberation Serif', serif" font-style="italic" font-size="23">IC</text>
<text transform="matrix(1.0139,0,0,1.0231,400.71,254.90)" font-family="'Liberation Serif', serif" font-style="normal" font-size="15.5">2</text>
<rect x="415.40" y="242.03" width="15.70" height="1.15"/><rect x="415.40" y="246.53" width="15.70" height="1.15"/>
<text transform="matrix(0.9346,0,0,0.9675,436.33,241.60)" font-family="'Liberation Serif', serif" font-style="normal" font-size="15.5">1</text>
<rect x="436.10" y="246.00" width="8.9" height="1.7" fill="#000"/>
<text transform="matrix(1.0783,0,0,0.9452,436.27,260.30)" font-family="'Liberation Serif', serif" font-style="normal" font-size="15.5">2</text>
<text transform="matrix(0.9512,0,0,1.0000,447.57,251.10)" font-family="'Liberation Serif', serif" font-style="italic" font-size="23">q</text>
<text transform="matrix(1.0944,0,0,1.0718,459.35,242.30)" font-family="'Liberation Serif', serif" font-style="normal" font-size="15.5">2</text>
<rect x="474.50" y="244.00" width="15.10" height="1.2"/><rect x="481.45" y="237.20" width="1.2" height="15.50"/>
<text transform="matrix(1.0520,0,0,1.0310,495.34,251.10)" font-family="'Liberation Serif', serif" font-style="normal" font-size="23">2</text>
<text transform="matrix(1.1758,0,0,1.1032,622.11,214.00)" font-family="'Liberation Serif', serif" font-style="italic" font-size="23">IC</text>
<text transform="matrix(0.9839,0,0,1.0231,648.47,217.80)" font-family="'Liberation Serif', serif" font-style="normal" font-size="15.5">3</text>
<rect x="663.20" y="204.93" width="15.70" height="1.15"/><rect x="663.20" y="209.43" width="15.70" height="1.15"/>
<text transform="matrix(0.9346,0,0,0.9675,684.33,204.50)" font-family="'Liberation Serif', serif" font-style="normal" font-size="15.5">1</text>
<rect x="684.10" y="208.90" width="8.9" height="1.7" fill="#000"/>
<text transform="matrix(0.9299,0,0,0.9508,684.72,223.20)" font-family="'Liberation Serif', serif" font-style="normal" font-size="15.5">4</text>
<text transform="matrix(0.9512,0,0,1.0000,694.97,214.00)" font-family="'Liberation Serif', serif" font-style="italic" font-size="23">q</text>
<text transform="matrix(1.0944,0,0,1.0718,706.75,205.20)" font-family="'Liberation Serif', serif" font-style="normal" font-size="15.5">2</text>
<rect x="722.10" y="206.90" width="15.30" height="1.2"/><rect x="729.15" y="200.10" width="1.2" height="15.50"/>
<text transform="matrix(0.9951,0,0,1.0264,742.93,214.00)" font-family="'Liberation Serif', serif" font-style="normal" font-size="23">8</text>
<text transform="matrix(1.0670,0,0,1.0000,754.68,214.00)" font-family="'Liberation Serif', serif" font-style="normal" font-size="23">.</text>
<text transform="matrix(1.1171,0,0,1.0310,764.87,214.00)" font-family="'Liberation Serif', serif" font-style="normal" font-size="23">2</text>
<text transform="matrix(1.0469,0,0,1.0425,776.10,214.00)" font-family="'Liberation Serif', serif" font-style="normal" font-size="23">5</text>
<text transform="matrix(1.1758,0,0,1.1032,622.11,258.00)" font-family="'Liberation Serif', serif" font-style="italic" font-size="23">IC</text>
<text transform="matrix(0.8744,0,0,1.0292,648.94,261.80)" font-family="'Liberation Serif', serif" font-style="normal" font-size="15.5">4</text>
<rect x="663.20" y="248.93" width="15.70" height="1.15"/><rect x="663.20" y="253.43" width="15.70" height="1.15"/>
<text transform="matrix(0.9346,0,0,0.9675,684.33,248.50)" font-family="'Liberation Serif', serif" font-style="normal" font-size="15.5">1</text>
<rect x="684.10" y="252.90" width="8.9" height="1.7" fill="#000"/>
<text transform="matrix(1.0199,0,0,0.9410,684.40,267.20)" font-family="'Liberation Serif', serif" font-style="normal" font-size="15.5">8</text>
<text transform="matrix(0.9512,0,0,1.0000,694.97,258.00)" font-family="'Liberation Serif', serif" font-style="italic" font-size="23">q</text>
<text transform="matrix(1.0944,0,0,1.0718,706.75,249.20)" font-family="'Liberation Serif', serif" font-style="normal" font-size="15.5">2</text>
<rect x="722.10" y="250.90" width="15.30" height="1.2"/><rect x="729.15" y="244.10" width="1.2" height="15.50"/>
<text transform="matrix(0.9139,0,0,1.0340,743.05,258.00)" font-family="'Liberation Serif', serif" font-style="normal" font-size="23">1</text>
<text transform="matrix(0.9871,0,0,1.0310,753.62,258.00)" font-family="'Liberation Serif', serif" font-style="normal" font-size="23">6</text>
<text transform="matrix(1.0670,0,0,1.0000,766.18,258.00)" font-family="'Liberation Serif', serif" font-style="normal" font-size="23">.</text>
<text transform="matrix(1.0520,0,0,1.0310,776.44,258.00)" font-family="'Liberation Serif', serif" font-style="normal" font-size="23">2</text>
<text transform="matrix(1.0469,0,0,1.0425,788.10,258.00)" font-family="'Liberation Serif', serif" font-style="normal" font-size="23">5</text>
</g>
</svg>
</body></html>
